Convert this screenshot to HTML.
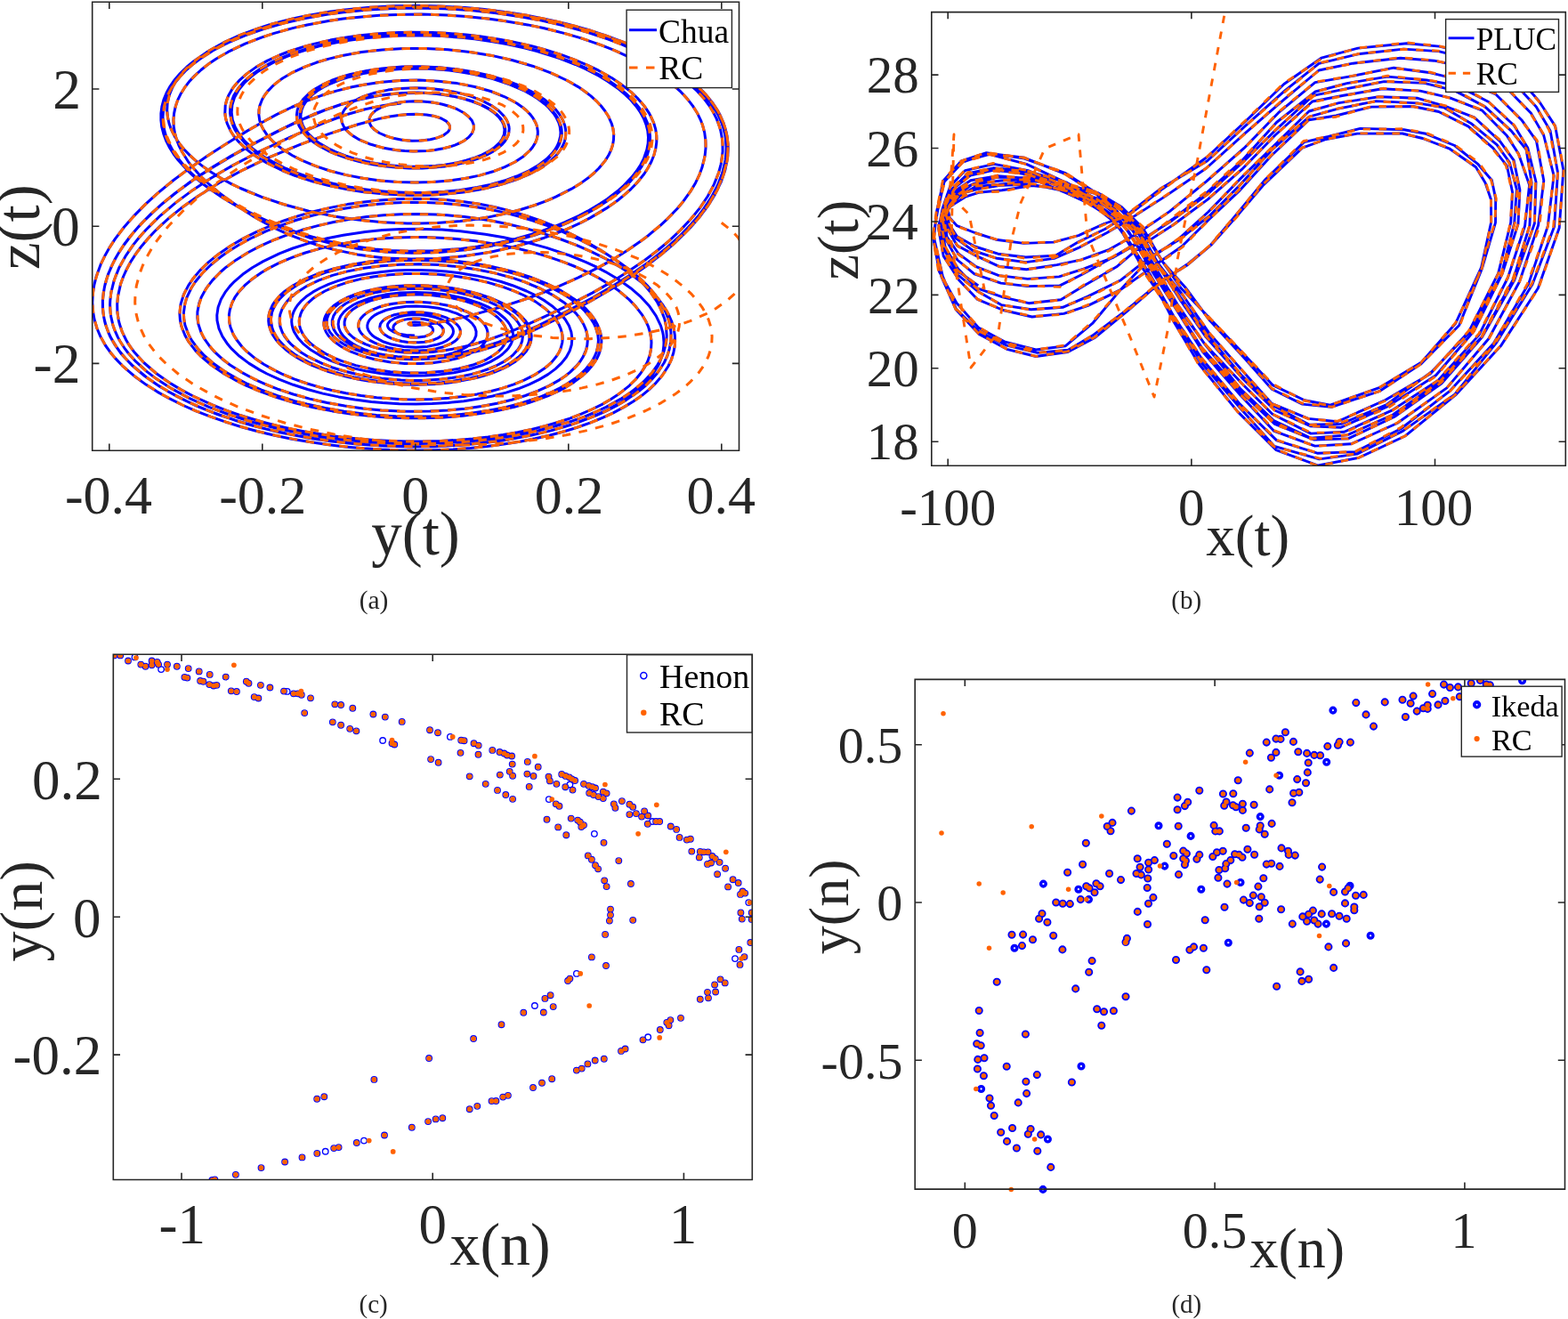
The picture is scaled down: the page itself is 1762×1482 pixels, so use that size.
<!DOCTYPE html>
<html><head><meta charset="utf-8"><title>Attractor reconstruction</title>
<style>html,body{margin:0;padding:0;background:#fff}svg{display:block}text{font-family:'Liberation Serif',serif}</style></head>
<body><svg width="1762" height="1482" viewBox="0 0 1762 1482">
<rect width="1762" height="1482" fill="#fff"/>
<clipPath id="ca"><rect x="103.7" y="2.2" width="726.8" height="504.0"/></clipPath>
<g clip-path="url(#ca)" fill="none" stroke-width="3.0" stroke-linejoin="round">
<path d="M465.9 377.1L456.4 376.5L448.7 375.2L442.7 373.2L438.0 370.3L436.6 368.7L435.7 367.1L435.5 365.4L435.9 363.7L438.4 360.5L443.2 357.7L449.8 355.5L456.8 354.2L464.6 353.6L472.8 353.8L481.1 354.8L489.0 356.5L496.0 358.9L501.2 361.5L504.6 363.9L507.2 366.5L508.9 369.3L509.5 372.2L509.1 375.0L507.6 377.8L505.1 380.5L501.6 383.0L497.1 385.2L491.7 387.0L480.3 389.4L467.3 390.2L453.6 389.5L440.5 387.1L430.1 383.7L421.6 379.2L418.3 376.7L415.8 374.0L414.0 371.2L412.9 368.4L412.8 365.5L413.5 362.6L415.0 359.7L417.5 357.0L420.7 354.4L424.8 352.1L433.6 348.5L444.4 345.9L456.6 344.3L467.9 344.0L481.3 344.7L492.7 346.3L503.4 348.9L513.1 352.2L520.2 355.6L526.1 359.4L530.6 363.5L533.7 367.9L535.1 372.5L534.9 377.1L533.0 381.6L529.4 385.9L524.1 390.0L517.3 393.6L509.1 396.7L501.5 398.8L491.2 400.8L480.0 402.1L468.2 402.5L458.5 402.4L446.3 401.4L436.7 400.0L427.4 398.2L418.6 395.8L410.3 393.0L402.8 389.7L396.2 386.1L390.6 382.2L386.1 377.9L382.8 373.5L380.8 368.9L380.1 364.3L380.8 359.6L382.8 355.1L386.3 350.6L391.1 346.4L397.2 342.5L402.6 339.8L415.3 335.1L425.0 332.6L432.8 331.1L449.7 329.0L467.7 328.4L486.2 329.2L504.5 331.5L522.0 335.2L538.0 340.4L549.7 345.5L559.7 351.5L567.5 358.0L571.1 362.1L573.1 365.0L575.2 369.3L576.1 372.2L576.6 376.6L576.4 379.6L575.3 384.0L574.0 386.9L571.3 391.2L568.9 393.9L564.6 398.0L561.1 400.6L550.8 406.6L540.8 410.8L526.4 415.3L510.2 418.8L492.6 421.1L477.6 422.1L458.3 422.2L442.7 421.3L427.2 419.6L412.0 417.1L397.3 413.7L383.6 409.6L370.8 404.8L359.4 399.3L349.5 393.3L341.2 386.7L334.8 379.8L330.4 372.6L329.0 368.9L328.1 365.2L327.7 361.4L327.9 357.7L328.7 354.0L330.0 350.3L331.9 346.6L334.3 343.0L338.9 337.8L344.8 332.7L351.9 327.9L360.1 323.5L369.3 319.3L379.6 315.6L390.8 312.3L402.8 309.5L415.6 307.2L429.0 305.4L442.9 304.1L457.3 303.4L472.0 303.4L486.8 303.9L501.6 305.0L516.4 306.7L535.6 309.9L549.6 312.9L563.1 316.5L575.9 320.7L591.6 327.0L602.4 332.2L612.1 337.9L620.6 343.9L629.9 352.5L635.4 359.2L639.4 366.0L641.9 373.1L642.9 380.1L642.3 387.2L640.2 394.3L636.4 401.2L631.1 407.9L624.3 414.4L615.9 420.6L606.1 426.4L594.8 431.8L582.3 436.8L568.6 441.1L553.7 445.0L537.9 448.1L521.2 450.7L503.7 452.5L485.7 453.6L467.3 454.0L448.6 453.7L429.8 452.6L417.3 451.4L398.7 449.0L380.4 445.9L362.6 442.1L345.6 437.5L329.4 432.3L314.1 426.4L300.1 420.0L291.4 415.4L279.6 408.1L269.2 400.3L260.5 392.2L255.7 386.6L249.9 377.9L246.0 369.1L244.0 360.1L243.8 354.1L245.1 345.2L248.4 336.3L253.6 327.6L258.1 321.9L263.4 316.3L272.7 308.3L283.5 300.7L295.8 293.6L314.0 284.8L329.0 279.0L350.6 272.1L367.8 267.8L385.7 264.2L410.6 260.5L429.8 258.6L449.5 257.5L469.6 257.2L496.8 258.1L517.4 259.7L545.3 263.2L566.2 266.8L593.9 272.9L614.1 278.4L639.9 287.0L658.0 294.4L669.5 299.7L680.3 305.3L695.4 314.2L708.7 323.7L720.2 333.7L729.8 344.1L737.2 354.8L742.5 365.9L744.7 373.3L745.4 377.1L746.0 384.6L745.9 388.3L745.0 395.8L744.1 399.5L741.4 407.0L739.7 410.6L732.9 421.5L723.7 432.1L712.1 442.2L698.1 451.8L682.0 460.8L663.6 469.2L643.3 476.7L621.1 483.4L597.3 489.1L571.9 493.9L545.3 497.6L517.6 500.2L489.0 501.7L459.9 502.0L430.4 501.1L400.8 499.0L371.4 495.8L342.5 491.4L314.2 485.8L286.9 479.1L269.4 474.0L244.3 465.5L220.9 456.1L199.3 445.7L179.8 434.5L162.6 422.6L147.9 410.0L139.6 401.3L135.8 396.9L129.4 387.9L124.1 378.8L122.0 374.1L118.6 364.8L117.4 360.1L115.8 350.7L115.4 346.0L115.4 336.5L117.4 322.4L121.4 308.4L127.5 294.6L132.5 285.5L138.3 276.6L148.1 263.5L155.4 255.1L163.2 246.8L180.1 230.9L198.4 216.0L217.5 202.1L237.1 189.2L261.5 174.6L289.7 159.2L319.5 143.9L342.8 133.0L364.9 123.9L383.0 117.6L404.5 111.7L425.8 107.6L447.0 105.1L467.6 104.4L477.7 104.6L490.7 105.5L500.1 106.7L512.0 108.8L520.4 110.8L530.7 114.0L540.0 117.7L548.1 121.8L554.9 126.4L560.3 131.3L564.1 136.4L566.0 140.4L567.0 145.7L566.4 151.1L564.1 156.4L561.3 160.3L556.2 165.2L549.5 169.9L541.3 174.1L534.2 177.0L523.7 180.3L512.1 183.1L499.5 185.2L489.5 186.3L475.7 187.1L461.4 187.2L447.0 186.5L436.2 185.5L421.9 183.5L411.5 181.5L398.2 178.1L388.8 175.2L377.1 170.7L369.1 166.9L359.6 161.4L353.5 156.9L346.9 150.7L343.0 145.7L340.2 140.7L338.5 135.5L338.0 132.1L338.0 128.6L339.0 123.4L341.1 118.3L344.4 113.3L350.5 106.9L356.4 102.3L363.4 98.0L371.4 94.0L380.4 90.3L390.3 87.0L408.5 82.5L420.4 80.4L432.9 78.7L454.7 77.2L468.2 77.0L481.9 77.3L504.8 79.1L518.4 80.9L531.7 83.3L553.0 88.4L572.6 94.8L590.1 102.5L599.3 107.7L604.8 111.3L612.2 117.0L616.5 121.0L621.9 127.2L624.7 131.4L627.9 137.8L629.2 142.2L630.0 148.7L629.7 153.1L628.0 159.7L626.1 164.0L623.6 168.2L620.4 172.4L614.4 178.5L604.2 186.1L594.9 191.5L580.6 198.0L568.6 202.4L550.8 207.4L536.3 210.5L515.7 213.7L499.5 215.3L477.2 216.5L459.9 216.5L436.8 215.6L419.4 214.0L402.1 211.7L385.3 208.8L363.5 203.8L348.0 199.3L333.4 194.2L319.7 188.6L303.3 180.2L292.4 173.4L283.0 166.2L275.1 158.6L268.7 150.7L264.1 142.6L261.2 134.4L260.2 126.1L260.9 117.8L263.5 109.5L268.0 101.4L274.3 93.5L282.5 85.9L288.9 81.0L299.9 74.1L308.2 69.7L322.0 63.6L332.0 59.8L348.2 54.7L359.7 51.6L378.0 47.7L390.7 45.5L410.7 42.8L424.4 41.5L445.6 40.2L460.0 39.8L481.9 40.0L496.6 40.6L518.6 42.2L533.3 43.8L555.0 46.9L569.2 49.5L590.0 54.0L603.4 57.5L628.9 65.6L646.7 72.5L657.8 77.5L673.3 85.5L682.7 91.2L695.3 100.1L702.7 106.4L709.2 112.8L714.9 119.4L719.6 126.2L723.3 133.0L726.0 139.9L727.8 146.9L728.5 154.0L728.2 161.0L726.9 168.0L723.3 178.4L719.8 185.3L715.4 192.0L710.3 198.6L701.1 208.3L694.2 214.5L682.6 223.4L674.1 229.1L660.4 237.2L650.7 242.3L635.4 249.4L624.7 253.8L608.0 259.8L596.6 263.5L579.1 268.4L567.2 271.2L549.0 274.9L536.8 277.0L518.4 279.4L487.7 281.8L457.2 282.2L439.2 281.5L421.4 280.0L392.4 276.0L364.3 270.0L337.1 262.2L321.3 256.6L305.7 250.5L290.4 243.7L275.4 236.2L260.6 228.2L251.1 222.5L237.4 213.6L228.8 207.3L216.9 197.4L209.8 190.6L200.3 180.1L194.9 172.8L190.3 165.4L186.6 158.0L183.8 150.4L181.8 142.7L180.9 135.1L180.9 127.4L181.9 119.7L183.9 112.1L187.0 104.5L191.1 97.0L196.2 89.7L202.4 82.5L209.6 75.5L217.8 68.7L232.0 58.9L242.7 52.7L260.5 44.0L273.4 38.7L294.5 31.3L309.5 26.8L333.3 21.0L350.1 17.6L376.3 13.4L394.4 11.2L422.3 8.9L441.4 7.9L470.5 7.5L490.1 7.9L509.7 8.7L529.4 10.2L558.7 13.3L578.1 16.0L597.1 19.3L615.9 23.0L643.1 29.6L660.7 34.6L677.6 40.0L693.8 45.9L716.7 55.5L730.9 62.4L744.2 69.7L756.5 77.3L773.0 89.4L782.6 97.7L791.0 106.3L798.3 115.2L804.2 124.1L806.8 128.7L810.9 137.9L812.5 142.5L814.8 151.9L815.5 156.6L816.1 165.9L816.0 170.6L815.1 180.0L811.8 194.0L806.6 207.8L799.5 221.4L790.7 234.6L784.1 243.3L776.8 251.7L765.0 264.0L747.8 279.5L729.3 294.2L710.0 307.8L690.3 320.3L665.9 334.5L637.8 349.4L604.3 366.0L581.6 376.1L560.1 384.5L539.2 391.2L522.0 395.5L501.6 399.1L481.6 401.1L471.7 401.5L458.9 401.4L446.6 400.7L434.7 399.3L423.6 397.2L413.3 394.6L403.9 391.5L395.5 387.9L388.3 383.8L382.4 379.5L377.9 374.8L374.9 369.9L373.3 364.9L373.3 359.9L374.8 354.9L377.9 350.0L382.5 345.4L388.6 341.0L396.1 337.0L402.6 334.3L412.3 331.1L423.1 328.4L434.8 326.4L444.1 325.3L457.0 324.4L470.3 324.2L483.8 324.8L493.9 325.7L507.3 327.5L517.0 329.3L529.6 332.4L538.5 335.1L549.6 339.2L557.2 342.7L566.2 347.8L572.0 352.0L578.5 357.8L582.2 362.4L585.0 367.1L586.7 371.9L587.4 378.4L586.7 383.2L584.9 388.0L582.0 392.7L576.5 398.8L571.1 403.1L564.7 407.2L557.4 411.0L549.1 414.5L540.0 417.6L530.1 420.4L519.4 422.7L508.2 424.6L496.4 426.1L475.9 427.4L463.2 427.5L450.4 427.1L428.9 425.2L416.2 423.5L403.8 421.2L384.1 416.3L372.9 412.7L362.5 408.7L346.9 401.2L338.8 396.2L333.9 392.6L327.5 387.2L323.9 383.4L319.5 377.5L317.3 373.5L315.0 367.4L314.2 363.3L314.2 357.2L314.9 353.1L317.1 347.0L319.4 343.0L322.2 339.1L325.7 335.2L334.4 327.9L345.4 321.0L358.5 314.8L373.6 309.4L390.5 304.9L408.9 301.2L428.6 298.7L449.3 297.2L470.7 296.8L492.4 297.6L514.1 299.5L535.4 302.7L556.1 306.9L575.8 312.2L589.6 316.9L606.7 324.0L621.8 331.9L634.7 340.6L642.9 347.6L647.5 352.4L651.4 357.3L656.0 364.8L658.2 369.9L659.6 375.1L660.3 382.9L659.8 388.1L658.5 393.3L655.2 400.9L652.0 406.0L648.1 410.9L640.7 418.1L634.9 422.7L628.3 427.1L617.2 433.4L604.5 439.2L590.4 444.5L575.1 449.2L558.5 453.2L540.9 456.5L522.3 459.2L503.0 461.0L483.1 462.1L462.8 462.3L449.1 462.0L428.4 460.9L407.8 458.9L387.4 456.1L367.5 452.5L348.1 448.1L329.6 443.0L312.0 437.1L300.9 432.8L285.3 425.8L271.1 418.1L258.4 410.0L250.9 404.3L241.2 395.4L235.7 389.2L229.1 379.8L225.9 373.3L222.7 363.6L221.8 357.0L221.9 350.4L223.8 340.5L226.2 334.0L231.5 324.4L238.6 315.1L247.4 306.0L254.1 300.2L265.5 291.9L278.2 284.0L292.0 276.7L307.0 269.9L322.9 263.8L339.6 258.3L357.0 253.6L375.0 249.5L393.5 246.2L412.3 243.6L431.3 241.8L450.6 240.7L469.9 240.5L489.3 241.0L502.3 241.7L521.6 243.6L534.5 245.2L553.7 248.3L572.8 252.2L591.7 256.9L610.6 262.3L629.3 268.5L647.6 275.4L665.2 283.1L682.0 291.4L697.6 300.4L707.2 306.7L720.4 316.7L728.3 323.6L738.6 334.4L744.3 341.8L751.2 353.1L754.6 360.8L757.0 368.6L758.3 376.4L758.6 384.3L758.3 388.2L756.9 396.0L754.5 403.8L750.9 411.5L743.5 422.8L737.2 430.1L729.8 437.3L721.3 444.3L711.7 451.0L701.2 457.4L689.6 463.6L677.1 469.4L663.6 474.9L649.3 480.0L634.1 484.7L618.1 489.0L601.4 492.8L584.1 496.2L566.1 499.1L547.5 501.5L528.5 503.5L509.1 504.9L489.3 505.7L469.2 506.1L449.0 505.9L428.7 505.1L408.3 503.8L387.9 502.0L367.7 499.6L347.7 496.6L328.0 493.2L308.7 489.2L289.8 484.7L271.4 479.7L253.7 474.2L236.6 468.2L220.3 461.8L204.8 455.0L190.2 447.7L176.6 440.1L164.0 432.1L152.5 423.8L137.4 410.8L128.9 401.9L125.1 397.3L118.4 388.0L113.1 378.6L109.0 369.0L106.1 359.3L104.4 349.6L103.8 339.9L104.3 330.1L105.8 320.4L108.2 310.7L113.5 296.3L118.1 286.9L123.4 277.6L129.4 268.4L139.6 255.0L151.0 242.1L163.3 229.6L176.5 217.6L194.9 202.5L213.9 188.4L232.9 175.3L251.6 163.2L278.2 146.9L295.0 137.2L311.4 128.4L327.8 120.5L344.3 113.5L361.1 107.3L378.1 102.1L395.5 97.8L408.7 95.2L426.5 92.6L448.9 90.6L471.1 90.1L492.8 91.2L513.7 93.6L533.4 97.5L551.3 102.5L567.2 108.8L580.7 116.0L587.4 120.7L591.4 124.0L596.3 129.1L599.0 132.7L602.0 138.1L603.4 141.7L604.3 147.2L604.3 150.9L603.1 156.5L601.7 160.1L598.4 165.5L595.5 169.0L588.2 175.7L578.7 182.0L567.2 187.7L553.9 192.8L538.9 197.1L522.4 200.5L504.7 203.0L486.1 204.6L466.8 205.1L447.1 204.6L427.4 203.0L407.9 200.3L389.0 196.6L370.9 192.0L354.0 186.4L338.6 179.9L328.2 174.5L316.1 166.7L308.3 160.5L303.9 156.1L300.1 151.7L295.6 144.9L293.4 140.3L291.8 135.6L290.8 128.5L291.0 123.7L291.8 119.0L294.5 112.0L297.1 107.4L300.5 102.9L306.8 96.3L311.8 92.1L317.5 88.0L327.3 82.2L342.5 75.1L355.4 70.3L369.5 66.1L384.6 62.5L406.3 58.6L429.4 56.0L453.4 54.6L478.2 54.6L503.2 55.8L528.2 58.5L552.6 62.4L576.1 67.7L598.4 74.2L618.9 81.8L637.4 90.5L649.8 97.6L657.2 102.7L664.0 107.9L670.0 113.3L675.2 118.8L679.7 124.5L683.4 130.2L687.4 139.1L689.0 145.0L689.7 151.0L689.5 157.0L688.5 163.0L686.5 168.9L683.7 174.8L680.0 180.6L673.0 189.0L667.4 194.5L661.1 199.8L654.0 204.9L642.3 212.2L624.6 221.2L615.0 225.3L599.7 231.0L583.4 236.0L572.0 239.0L548.3 244.1L529.8 247.0L517.1 248.5L491.1 250.5L471.2 251.1L457.7 251.0L430.4 249.8L402.8 247.1L374.8 242.9L347.0 237.2L320.0 230.0L294.2 221.4L270.2 211.5L259.0 206.1L248.4 200.3L238.6 194.3L229.5 188.1L221.1 181.6L213.7 174.9L207.0 168.0L201.3 160.9L196.6 153.7L192.8 146.4L190.1 139.0L188.4 131.5L187.7 124.0L188.1 116.5L189.6 109.0L190.8 105.3L193.9 97.9L198.1 90.6L206.5 80.0L213.4 73.1L221.4 66.4L235.3 56.7L251.5 47.7L269.8 39.4L290.1 31.9L304.6 27.3L327.9 21.2L344.3 17.7L370.1 13.3L387.9 10.9L415.6 8.3L444.2 6.8L473.3 6.5L492.9 6.9L522.5 8.6L542.1 10.3L571.4 13.9L590.7 17.0L618.9 22.6L637.2 26.9L663.7 34.3L680.6 39.9L704.7 49.0L719.7 55.6L740.7 66.2L753.4 73.7L770.6 85.7L780.7 94.0L789.7 102.5L793.7 106.9L800.9 115.8L806.8 124.9L809.2 129.4L813.2 138.7L816.0 148.1L817.0 152.8L818.1 162.2L818.2 166.9L817.7 176.4L815.0 190.5L810.3 204.4L803.6 218.1L795.3 231.6L785.5 244.6L774.4 257.3L757.9 273.4L744.5 284.8L725.8 299.3L706.3 312.7L686.7 325.0L662.5 339.0L630.7 355.9L602.2 370.0L579.6 380.0L557.8 388.2L539.9 393.7L522.1 398.0L504.4 401.1L486.9 403.1L466.3 403.8L449.7 403.2L430.9 401.1L413.7 397.5L398.6 392.6L392.0 389.7L386.0 386.6L380.8 383.2L375.1 378.4L370.9 373.4L368.7 369.4L367.4 365.5L367.1 361.4L367.7 357.4L369.2 353.5L371.7 349.6L375.1 345.8L380.9 341.0L388.3 336.6L397.2 332.6L407.3 329.1L418.6 326.2L430.9 324.0L444.0 322.4L454.3 321.7L468.4 321.4L482.7 321.8L497.1 323.1L507.7 324.5L521.6 327.1L531.6 329.5L544.2 333.3L553.1 336.6L563.9 341.6L571.1 345.6L579.4 351.5L584.6 356.1L589.9 362.6L592.7 367.6L594.7 374.5L595.0 379.6L594.5 383.1L593.5 386.5L591.0 391.6L587.4 396.5L582.6 401.3L574.6 407.3L567.3 411.5L559.0 415.4L549.8 418.9L539.7 422.1L528.8 424.8L509.1 428.3L496.5 429.8L483.5 430.7L461.1 431.1L447.4 430.6L433.8 429.5L411.2 426.5L398.1 424.0L385.4 421.0L365.5 414.8L347.6 407.4L338.1 402.4L332.3 398.9L324.6 393.3L320.0 389.4L314.3 383.4L311.1 379.2L307.5 372.9L305.9 368.5L304.6 362.0L304.5 357.7L305.6 351.1L307.2 346.8L310.7 340.4L313.9 336.3L319.9 330.2L324.6 326.4L335.9 319.0L349.6 312.3L365.3 306.4L383.0 301.4L402.3 297.4L423.1 294.5L444.9 292.8L467.6 292.2L490.6 292.9L513.7 294.8L536.4 297.9L558.5 302.2L579.6 307.7L599.3 314.3L617.2 322.0L633.0 330.5L640.1 335.0L646.5 339.8L652.3 344.7L657.4 349.8L663.7 357.6L667.0 362.9L669.6 368.3L671.9 376.6L672.4 382.1L672.1 387.6L670.2 395.9L667.8 401.3L664.7 406.7L658.4 414.5L653.3 419.6L647.3 424.6L636.9 431.6L629.0 436.1L620.4 440.4L606.3 446.3L585.1 453.2L567.8 457.6L549.2 461.3L529.7 464.3L509.4 466.4L488.3 467.7L466.8 468.1L444.9 467.7L423.0 466.4L408.4 465.0L386.7 462.2L365.4 458.5L344.7 454.0L331.3 450.6L312.0 444.7L293.9 438.1L277.0 430.8L266.6 425.5L252.3 417.2L239.7 408.2L228.9 398.9L222.8 392.4L215.4 382.4L211.7 375.6L207.9 365.2L206.7 358.2L206.4 351.2L207.9 340.7L210.1 333.8L215.0 323.5L219.4 316.8L227.3 307.0L237.0 297.5L248.1 288.5L256.2 282.7L269.5 274.5L283.9 266.8L299.3 259.7L315.4 253.3L332.3 247.5L349.7 242.5L367.5 238.1L385.7 234.5L404.1 231.6L422.6 229.4L441.1 228.0L459.5 227.3L477.9 227.4L496.0 228.2L514.0 229.8L531.6 232.0L549.0 235.0L566.0 238.6L582.7 243.0L599.1 248.0L615.2 253.7L631.0 260.0L651.7 269.3L666.9 277.1L681.7 285.5L695.6 294.4L708.6 303.9L720.3 313.9L727.3 320.8L736.5 331.5L741.6 338.9L747.8 350.1L750.8 357.7L752.8 365.3L753.9 373.0L754.0 380.8L753.6 384.6L752.2 392.3L749.8 400.0L746.3 407.5L739.0 418.7L732.9 425.9L725.8 433.0L717.6 439.8L703.4 449.6L692.7 455.9L681.1 461.8L668.6 467.4L648.2 475.1L633.5 479.8L618.1 484.1L602.0 487.9L585.2 491.3L567.8 494.3L549.9 496.8L531.5 498.8L512.7 500.2L493.5 501.2L474.1 501.7L454.4 501.6L434.7 501.0L414.9 499.9L395.1 498.2L375.5 496.0L356.0 493.3L336.8 490.1L318.0 486.3L299.5 482.1L281.6 477.3L264.2 472.1L239.4 463.4L223.8 457.1L209.0 450.4L188.5 439.6L176.1 431.9L164.7 423.9L149.7 411.5L141.1 402.8L133.8 393.9L130.6 389.4L125.1 380.3L122.8 375.7L119.2 366.4L116.8 357.0L115.6 347.6L115.4 338.2L116.3 328.7L118.1 319.3L120.9 310.0L124.6 300.7L129.0 291.6L134.3 282.6L140.2 273.7L146.8 265.0L157.8 252.3L169.9 240.1L182.9 228.4L196.6 217.2L210.8 206.6L225.4 196.6L240.0 187.1L259.5 175.4L283.2 162.3L309.5 148.6L333.4 136.9L352.2 128.5L366.9 122.8L384.9 116.7L399.3 112.6L417.2 108.7L435.0 106.0L452.6 104.4L469.8 104.1L486.5 104.8L502.3 106.7L517.0 109.6L532.8 114.3L544.1 119.1L549.9 122.3L555.0 125.8L559.3 129.4L562.8 133.2L565.4 137.2L566.6 139.8L567.6 143.9L567.8 148.0L567.0 152.0L565.9 154.7L563.5 158.6L561.4 161.2L554.4 167.4L547.0 171.9L538.2 176.0L528.0 179.5L516.7 182.5L504.3 184.9L491.0 186.5L477.2 187.5L466.4 187.7L451.9 187.3L437.4 186.1L423.0 184.1L412.5 182.1L399.0 178.8L389.4 175.9L377.5 171.4L369.3 167.7L359.7 162.1L353.4 157.7L346.5 151.4L342.5 146.5L338.8 139.7L337.3 134.5L336.9 131.0L337.1 127.5L338.3 122.3L341.7 115.4L345.6 110.5L350.7 105.7L356.8 101.1L366.7 95.5L375.3 91.6L384.9 88.1L395.3 85.0L414.4 80.8L430.9 78.5L448.4 77.0L466.4 76.5L489.5 77.2L507.9 78.9L526.0 81.6L543.6 85.3L560.2 89.9L575.7 95.3L589.7 101.6L602.1 108.5L612.5 116.1L620.8 124.2L624.0 128.3L626.7 132.6L628.8 136.9L630.3 141.3L631.1 145.7L631.3 150.1L630.8 154.6L629.7 159.0L627.9 163.3L625.4 167.6L622.3 171.8L618.6 176.0L614.2 180.0L609.1 183.9L597.3 191.2L583.1 197.9L571.1 202.3L553.3 207.5L533.8 211.6L512.9 214.7L496.5 216.2L473.8 217.2L450.6 216.9L427.2 215.4L409.7 213.5L386.9 209.8L370.3 206.2L349.1 200.5L334.2 195.4L315.9 187.8L303.5 181.4L289.0 172.3L279.8 164.9L274.5 159.8L269.9 154.6L264.4 146.5L261.8 141.0L259.9 135.5L258.5 127.1L258.7 121.5L259.6 115.9L262.6 107.6L267.5 99.5L274.3 91.6L282.8 84.0L293.2 76.8L305.2 70.0L314.1 65.8L328.8 59.9L345.0 54.6L362.4 50.1L374.7 47.4L394.1 44.1L414.3 41.6L435.4 39.9L449.7 39.2L471.6 39.0L486.4 39.3L508.6 40.6L523.5 41.9L545.5 44.6L560.0 46.9L581.2 51.1L595.0 54.4L615.0 60.0L627.7 64.1L645.8 71.0L657.2 75.9L673.0 83.9L682.6 89.6L695.6 98.6L703.2 104.8L713.0 114.6L718.4 121.3L724.7 131.6L727.7 138.5L729.6 145.6L730.5 152.7L730.5 159.8L729.4 166.8L727.4 173.9L724.5 180.8L720.7 187.7L713.5 197.8L707.7 204.4L701.2 210.8L694.1 217.0L682.2 225.9L664.5 237.0L654.8 242.2L639.6 249.5L629.0 254.0L612.5 260.2L601.2 264.0L583.7 269.0L571.9 272.0L553.8 275.9L523.4 280.7L492.9 283.5L462.6 284.2L432.9 283.0L404.0 279.7L376.1 274.5L349.2 267.5L323.3 258.7L308.2 252.7L293.5 246.0L278.9 238.7L264.6 230.8L250.7 222.4L241.8 216.4L229.2 207.1L221.5 200.6L210.8 190.5L204.6 183.5L199.0 176.4L194.2 169.1L190.2 161.8L187.0 154.3L184.8 146.7L183.4 139.1L183.0 131.5L183.6 123.9L185.2 116.3L187.8 108.7L191.4 101.3L196.0 93.9L201.7 86.7L208.3 79.7L216.0 72.8L224.7 66.2L239.5 56.7L256.5 47.9L275.4 39.8L296.3 32.5L318.8 26.1L343.0 20.6L368.5 16.1L386.2 13.7L413.6 11.0L441.8 9.4L470.5 9.0L499.6 9.7L528.8 11.6L557.9 14.7L586.5 19.0L605.2 22.4L632.5 28.6L658.7 35.8L683.5 44.0L699.2 50.1L721.2 59.9L741.2 70.6L759.1 82.0L769.7 90.0L783.5 102.5L791.3 111.1L797.8 119.9L800.6 124.4L805.2 133.4L808.7 142.6L809.9 147.2L811.6 156.4L812.0 161.1L812.1 170.4L810.2 184.3L807.8 193.5L802.4 207.1L795.3 220.5L786.5 233.6L776.2 246.3L764.7 258.5L752.2 270.3L738.8 281.5L724.7 292.2L705.2 305.6L685.4 317.9L665.6 329.1L641.5 341.6L618.8 352.6L590.4 365.6L568.7 374.6L548.3 382.0L532.1 387.0L516.3 390.8L500.8 393.6L485.8 395.4L468.3 396.2L454.5 395.9L438.9 394.2L424.7 391.4L418.3 389.6L410.5 386.7L400.6 381.8L396.6 379.0L392.3 375.1L389.3 371.0L387.8 367.9L387.1 364.7L387.1 361.5L388.3 357.2L390.1 354.1L392.6 351.0L395.9 348.1L401.3 344.4L408.0 341.1L415.7 338.1L422.1 336.2L431.5 334.0L441.6 332.4L460.7 330.9L472.1 330.9L483.7 331.5L503.7 334.0L514.7 336.3L522.6 338.4L532.5 341.7L539.4 344.5L547.7 348.6L553.2 352.0L559.4 356.8L563.2 360.6L567.0 365.9L568.8 370.0L569.8 374.1L569.8 378.3L568.5 383.8L566.3 387.8L563.3 391.8L559.4 395.6L552.7 400.4L546.8 403.8L540.0 406.9L532.5 409.7L515.4 414.3L499.5 417.0L478.8 418.8L460.7 419.1L438.7 417.7L420.7 415.2L400.0 410.6L384.1 405.6L375.3 402.1L367.3 398.2L355.6 391.1L349.8 386.5L346.4 383.3L342.3 378.4L340.1 375.0L337.7 369.8L336.7 366.3L336.2 361.1L336.5 357.6L338.0 352.4L339.6 348.9L343.0 343.8L345.9 340.6L351.2 335.8L355.4 332.7L365.2 327.0L376.8 321.8L390.0 317.3L404.7 313.6L420.7 310.7L437.7 308.7L455.5 307.6L473.9 307.5L492.5 308.3L511.0 310.2L529.1 313.1L546.7 316.9L563.2 321.7L578.6 327.3L589.1 332.0L601.7 338.9L612.4 346.5L620.9 354.5L625.8 360.8L628.3 365.1L630.2 369.5L631.9 376.1L632.2 380.6L631.8 385.0L630.1 391.7L628.1 396.0L625.4 400.3L620.2 406.6L615.9 410.7L610.9 414.6L602.4 420.3L588.9 427.2L577.4 431.9L564.6 436.1L550.9 439.8L536.1 442.9L520.6 445.4L504.3 447.2L487.5 448.4L470.3 448.9L452.7 448.7L423.3 446.7L405.8 444.6L388.6 441.8L371.8 438.3L361.0 435.6L345.3 431.0L330.5 425.8L316.8 420.1L308.2 415.9L296.4 409.3L286.0 402.2L277.0 394.7L271.9 389.5L265.7 381.5L262.4 376.1L259.0 367.8L257.8 362.2L257.4 353.7L258.3 348.1L261.0 339.7L263.9 334.2L267.7 328.8L274.8 320.9L283.5 313.4L293.8 306.2L301.5 301.6L314.2 295.2L328.1 289.3L343.1 284.0L359.2 279.4L376.2 275.4L394.0 272.1L406.3 270.3L425.3 268.2L444.8 266.9L464.9 266.5L478.5 266.6L499.3 267.5L513.3 268.5L534.4 270.8L548.5 272.9L569.3 276.6L583.0 279.5L603.0 284.6L615.9 288.4L634.5 294.8L646.3 299.5L662.9 307.1L673.1 312.5L687.3 321.1L695.8 327.1L707.0 336.6L713.4 343.2L721.3 353.3L725.4 360.2L728.6 367.2L730.7 374.2L731.8 381.4L732.0 384.9L731.6 392.0L730.2 399.1L727.7 406.2L724.1 413.2L719.5 420.0L713.9 426.7L707.2 433.3L695.3 442.8L686.2 448.8L676.1 454.6L665.0 460.0L653.1 465.2L640.4 470.1L626.8 474.5L612.4 478.6L597.4 482.4L581.7 485.7L565.4 488.5L548.5 491.0L531.2 492.9L513.5 494.4L495.4 495.4L477.0 496.0L458.4 496.0L439.6 495.5L420.8 494.5L402.0 493.0L383.3 491.0L364.8 488.5L346.4 485.6L328.4 482.1L310.7 478.1L293.6 473.7L268.8 466.2L253.0 460.7L238.0 454.7L216.9 445.0L203.9 438.1L191.8 430.9L175.5 419.5L161.7 407.5L150.3 394.9L144.2 386.3L141.7 382.0L137.4 373.2L134.4 364.3L133.3 359.8L131.9 350.8L131.7 341.8L132.5 332.8L135.5 319.3L138.7 310.5L142.7 301.7L147.5 293.1L153.1 284.5L159.4 276.2L166.3 268.0L173.8 260.0L181.8 252.3L190.3 244.7L203.7 233.8L222.8 220.2L247.8 204.6L273.3 190.8L303.5 176.4L336.7 162.6L369.7 150.4L402.4 139.7L426.2 133.4L437.7 131.0L448.2 129.4L458.0 128.5L468.5 128.2L479.3 128.9L488.5 130.6L495.8 133.0L501.8 136.4L504.8 139.9L505.5 141.9L505.5 144.0L504.8 146.1L503.5 148.1L498.7 151.8L491.4 154.9L483.5 156.8L473.0 158.1L463.1 158.2L452.9 157.4L443.1 155.6L434.1 152.9L426.4 149.5L420.4 145.4L416.9 141.5L415.5 138.8L415.0 136.7L415.3 132.5L416.5 129.8L418.0 127.8L422.3 124.0L428.3 120.6L435.9 117.8L444.8 115.7L454.8 114.3L465.5 113.8L474.7 114.0L485.7 115.1L496.4 117.0L506.3 119.8L513.7 122.7L521.2 126.8L526.2 130.7L530.4 135.6L532.2 140.0L532.5 142.6L532.2 145.3L530.5 149.6L527.1 153.8L522.2 157.7L517.1 160.5L511.1 163.1L504.4 165.3L496.8 167.1L488.7 168.5L480.1 169.5L464.1 170.0L454.8 169.6L445.5 168.7L429.6 165.9L415.1 161.7L407.7 158.7L402.6 156.3L396.6 152.6L392.8 149.7L388.7 145.6L386.4 142.4L384.4 138.1L383.7 134.7L383.7 131.4L384.5 128.0L386.7 123.6L389.3 120.5L392.5 117.4L396.5 114.5L402.9 110.9L408.4 108.4L421.2 104.2L436.1 101.1L449.6 99.5L466.9 98.8L481.6 99.3L499.3 101.2L513.5 103.9L529.5 108.3L541.4 112.9L551.8 118.3L560.3 124.3L566.6 130.8L569.3 134.9L570.6 137.7L571.9 141.9L572.2 144.7L571.8 149.0L571.1 151.8L569.2 155.9L567.4 158.7L563.9 162.7L561.1 165.2L554.2 170.1L545.8 174.6L536.0 178.6L524.9 182.0L512.6 184.8L499.4 186.9L485.4 188.3L474.6 188.9L459.8 188.9L444.8 188.1L429.8 186.5L418.8 184.8L404.6 181.8L391.1 178.1L378.5 173.7L369.9 170.0L359.5 164.5L352.7 160.0L345.1 153.6L340.5 148.6L336.2 141.7L334.2 136.4L333.5 132.8L333.4 129.2L334.1 123.9L335.3 120.3L337.0 116.8L340.6 111.6L347.2 105.0L353.5 100.3L363.6 94.5L372.4 90.5L382.1 86.9L392.8 83.7L412.3 79.4L429.3 76.9L451.7 75.1L470.4 74.8L494.1 75.8L513.0 77.8L531.5 80.8L549.4 84.8L570.3 91.0L585.6 97.0L599.2 103.8L611.0 111.2L620.7 119.2L624.7 123.4L628.1 127.7L630.9 132.1L633.1 136.5L634.7 141.0L635.6 145.6L635.8 150.1L635.4 154.6L634.3 159.2L632.5 163.6L630.0 168.1L626.9 172.4L623.1 176.7L618.6 180.8L607.8 188.7L594.4 195.9L578.8 202.4L561.2 207.9L541.6 212.5L520.5 216.0L498.2 218.3L480.8 219.2L457.0 219.3L433.0 218.1L409.0 215.7L391.4 213.0L368.5 208.3L352.0 204.0L331.3 197.3L317.0 191.5L299.6 183.0L288.1 176.0L281.3 171.1L275.1 166.0L267.1 158.1L262.7 152.7L259.1 147.2L255.2 138.7L253.6 133.0L252.8 127.2L253.2 118.6L254.6 112.9L256.8 107.2L261.7 98.8L268.6 90.7L277.3 82.9L287.8 75.4L300.1 68.4L314.0 62.0L324.2 58.0L340.7 52.6L352.5 49.4L371.2 45.1L384.3 42.7L404.8 39.8L426.1 37.7L448.1 36.5L463.1 36.2L485.8 36.5L501.0 37.3L523.8 39.1L539.0 40.8L561.4 44.2L576.1 46.9L597.5 51.8L611.3 55.5L631.2 61.7L643.8 66.3L661.6 73.8L672.6 79.2L687.8 87.8L697.0 93.9L709.1 103.4L716.1 110.0L724.9 120.3L729.6 127.3L734.6 138.0L736.7 145.2L737.8 152.5L737.8 159.8L736.8 167.1L734.9 174.3L732.0 181.5L728.3 188.5L723.8 195.5L715.5 205.7L709.1 212.3L702.0 218.7L694.3 225.0L681.6 233.9L663.0 244.9L653.0 250.1L637.4 257.3L626.5 261.7L609.8 267.8L598.3 271.5L580.8 276.5L551.1 283.2L521.2 287.8L491.4 290.5L462.2 291.1L434.0 289.9L417.5 288.2L401.5 285.9L375.9 280.6L361.1 276.7L346.8 272.1L324.1 263.3L310.9 257.3L298.2 250.7L285.8 243.7L273.7 236.1L257.9 225.3L246.4 216.7L235.5 207.5L225.5 198.0L216.6 188.1L211.3 181.3L204.7 170.8L201.1 163.7L198.4 156.6L196.4 149.3L195.2 142.0L194.9 134.7L195.6 127.4L197.1 120.1L199.5 112.9L202.9 105.8L207.3 98.7L212.5 91.8L218.8 85.1L226.0 78.5L234.1 72.1L243.1 66.0L258.3 57.3L275.5 49.2L294.5 41.9L308.1 37.4L329.8 31.4L345.1 28.0L369.1 23.5L385.8 21.1L411.6 18.4L429.3 17.1L456.3 16.2L474.6 16.1L502.2 17.0L520.6 18.2L548.2 20.9L566.3 23.4L593.1 27.9L610.6 31.5L635.9 37.9L652.2 42.6L675.4 50.6L690.1 56.4L710.7 65.8L723.3 72.5L740.6 83.2L750.9 90.7L764.4 102.5L772.0 110.6L778.4 118.9L783.7 127.3L787.8 135.9L789.4 140.2L791.7 148.9L792.9 157.7L793.0 166.5L792.1 175.2L788.9 188.3L785.7 196.9L781.6 205.4L776.7 213.8L767.9 226.2L761.2 234.2L750.1 245.8L742.0 253.3L729.0 264.2L719.9 271.1L705.5 281.0L690.6 290.4L675.3 299.1L649.3 312.2L623.5 323.6L593.6 335.0L561.7 345.4L524.3 355.6L504.9 360.0L490.2 362.9L476.5 364.8L466.7 365.4L462.4 365.2L460.0 364.7L459.0 363.8L460.3 362.8L465.9 361.9L473.3 362.5L480.0 364.3L484.6 367.1L485.9 368.6L486.6 370.1L486.6 371.7L486.0 373.0L484.8 374.5L482.8 375.9L477.7 377.9L470.3 379.1L462.0 379.0L453.9 377.6L447.2 374.9L444.7 373.2L443.0 371.4L442.0 369.4L441.9 367.7L442.5 365.7L443.8 364.2L446.1 362.4L448.6 361.1L453.7 359.4L459.0 358.4L464.9 357.9L471.0 358.0L477.2 358.7L483.1 360.0L488.3 361.8L492.7 364.0L496.0 366.6L497.9 369.4L498.4 372.4L497.6 374.9L495.2 377.7L492.0 379.9L487.7 381.7L482.6 383.2L476.8 384.3L470.5 384.8L458.2 384.5L451.6 383.5L445.3 382.0L439.7 380.1L435.5 378.1L431.5 375.4L429.0 373.0L427.2 369.8L426.8 367.2L427.5 363.9L429.3 361.4L432.0 358.9L435.6 356.7L443.2 353.7L452.6 351.7L463.3 350.7L473.2 350.9L484.5 352.2L493.8 354.3L502.1 357.2L509.0 360.9L514.0 365.1L515.9 367.7L516.9 369.7L517.5 372.4L517.4 374.5L515.8 378.5L513.8 381.1L511.8 382.9L506.4 386.4L498.2 389.7L489.6 391.9L480.0 393.4L471.4 394.0L462.5 394.0L453.5 393.4L444.6 392.2L436.1 390.4L428.1 388.1L420.9 385.2L414.6 381.9L409.5 378.2L405.8 374.3L403.8 370.9L402.6 366.6L403.1 362.3L405.2 358.1L408.0 354.9L411.7 351.8L416.5 349.0L426.9 344.7L433.9 342.7L441.6 341.2L456.2 339.5L471.9 339.2L487.9 340.4L503.3 343.2L517.5 347.3L529.7 352.6L535.5 356.2L539.2 359.0L543.2 363.0L545.4 366.2L547.0 369.4L547.9 372.6L548.0 377.0L547.2 380.3L545.6 383.5L543.4 386.6L540.4 389.6L536.7 392.5L527.3 397.8L515.5 402.2L501.6 405.6L486.0 407.8L472.1 408.6L454.9 408.4L437.6 406.7L420.9 403.7L407.8 400.1L393.7 394.8L383.6 389.5L375.3 383.6L369.1 377.3L366.5 373.3L364.8 369.2L363.9 365.1L363.9 362.3L364.5 358.2L365.5 355.4L367.7 351.4L369.7 348.7L374.9 343.6L381.6 338.9L389.9 334.5L399.5 330.6L410.4 327.3L422.3 324.6L435.3 322.5L445.5 321.5L459.6 320.7L474.1 320.7L488.7 321.5L499.7 322.6L514.1 324.7L527.9 327.7L541.1 331.3L550.4 334.5L561.8 339.3L569.5 343.3L578.5 349.1L584.2 353.7L590.3 360.2L593.7 365.2L596.4 372.1L597.2 377.4L597.0 380.9L596.4 384.4L594.4 389.6L591.3 394.7L587.0 399.6L579.5 405.9L572.6 410.3L564.6 414.4L555.7 418.1L545.8 421.5L535.1 424.5L515.6 428.4L503.0 430.2L490.0 431.4L467.4 432.2L453.6 431.9L439.6 431.1L416.6 428.5L403.1 426.2L389.9 423.4L369.2 417.5L350.4 410.3L340.3 405.4L334.1 401.9L325.6 396.4L320.7 392.5L314.2 386.5L310.6 382.3L306.3 375.9L304.2 371.6L302.2 365.0L301.7 360.5L302.1 353.9L303.3 349.5L306.2 342.9L309.0 338.6L314.3 332.4L318.7 328.3L329.4 320.7L342.5 313.6L357.8 307.3L375.1 301.9L394.2 297.5L414.9 294.1L436.7 291.9L459.5 290.9L482.8 291.2L506.3 292.6L529.7 295.4L552.4 299.4L574.3 304.6L594.8 310.9L613.7 318.3L630.6 326.7L645.2 335.9L651.5 340.8L657.2 345.8L664.4 353.7L668.2 359.0L671.3 364.5L674.5 372.8L675.6 378.4L675.9 384.0L674.8 392.4L673.0 398.0L670.4 403.5L664.9 411.6L660.2 416.9L654.7 422.0L644.9 429.4L637.5 434.1L629.2 438.6L615.5 444.9L594.9 452.3L577.9 457.2L559.5 461.3L540.1 464.6L519.8 467.2L498.7 468.9L477.0 469.7L454.9 469.7L432.6 468.8L417.7 467.6L395.5 465.2L373.6 461.9L352.2 457.7L331.6 452.7L311.9 446.8L293.2 440.2L275.9 432.8L265.2 427.5L250.4 419.1L237.3 410.1L226.1 400.6L219.8 394.1L212.0 383.9L208.0 377.0L203.8 366.5L202.4 359.4L201.9 352.3L203.1 341.6L206.4 331.0L211.8 320.6L216.4 313.8L224.7 303.9L234.6 294.3L246.0 285.2L258.7 276.5L272.6 268.4L287.5 260.9L303.2 254.0L319.7 247.7L336.8 242.1L354.4 237.2L372.3 233.1L390.4 229.6L408.7 226.9L426.9 224.9L445.2 223.7L463.3 223.2L481.2 223.4L498.8 224.3L521.8 226.7L538.7 229.2L555.2 232.5L571.3 236.4L592.2 242.6L607.4 247.9L622.3 253.9L636.9 260.5L655.9 270.1L674.5 280.8L687.9 289.4L700.5 298.6L712.1 308.3L722.5 318.4L731.4 328.9L738.7 339.7L742.5 347.1L746.8 358.3L748.4 365.8L749.2 377.2L748.6 384.8L745.7 396.1L742.5 403.6L738.3 410.9L733.1 418.2L723.4 428.7L715.7 435.5L707.0 442.1L697.3 448.4L681.1 457.4L669.1 463.0L656.3 468.3L642.6 473.2L620.6 479.8L605.1 483.8L588.9 487.3L572.1 490.3L554.7 492.9L536.9 495.1L518.6 496.7L500.0 497.8L471.5 498.6L452.3 498.5L433.0 497.8L413.6 496.7L394.3 495.0L375.1 492.8L356.1 490.0L337.4 486.8L310.0 481.0L283.6 474.2L258.5 466.3L234.9 457.4L213.1 447.6L193.3 436.9L175.6 425.6L165.2 417.6L151.5 405.1L143.9 396.5L140.6 392.2L134.8 383.3L132.4 378.9L128.4 369.8L126.9 365.2L124.8 356.1L124.1 351.5L123.6 342.2L123.8 337.6L124.9 328.4L128.3 314.7L133.7 301.1L141.0 287.9L149.9 274.9L156.6 266.5L164.0 258.2L180.1 242.3L197.9 227.4L216.9 213.4L236.5 200.5L261.5 185.9L290.9 170.5L327.2 153.6L365.3 137.5L388.6 129.0L410.3 122.7L431.0 118.4L450.7 115.9" stroke="#0000ff"/>
<path d="M810.8 250.3L821.0 258.3L825.6 262.7L829.7 267.3L835.3 275.7L839.0 284.6L840.3 290.1L840.7 293.9L840.7 299.7L840.1 303.5L838.6 309.4L837.0 313.3L832.7 321.1L828.3 326.8L824.9 330.6L816.7 338.0L804.2 346.7L792.4 353.2L775.6 360.6L760.7 365.8L744.6 370.3L727.5 374.0L705.1 377.6L686.5 379.5L663.0 380.7L639.4 380.5L620.9 379.4L598.7 376.8L577.7 372.9L558.7 367.9L545.0 363.2L530.2 356.5L525.1 353.6L518.4 349.1L514.5 346.0L509.7 341.2L507.1 337.9L504.4 333.0L503.2 329.7L502.5 324.7L503.1 319.9L504.3 316.7L507.0 312.0L509.5 309.0L514.2 304.7L518.0 302.0L527.2 297.0L541.2 291.7L554.3 288.3L572.6 285.3L588.5 283.9L609.6 283.5L627.0 284.4L649.0 287.0L666.3 290.2L683.1 294.4L699.1 299.7L713.9 305.8L727.2 312.8L738.8 320.6L748.4 329.0L752.4 333.4L755.9 338.0L759.9 345.0L761.7 349.8L763.0 354.7L763.6 362.0L763.2 367.0L762.0 371.9L759.0 379.3L754.5 386.5L748.3 393.6L743.4 398.2L737.8 402.7L728.1 409.2L717.0 415.2L704.5 420.9L685.8 427.7L670.5 432.1L654.0 435.9L636.7 439.1L618.5 441.7L606.0 443.0L580.4 444.6L560.7 445.0L547.4 444.8L520.8 443.4L501.0 441.5L488.0 439.8L462.5 435.4L444.1 431.2L432.3 428.1L409.9 420.9L394.4 414.9L384.7 410.5L367.3 401.1L355.9 393.5L349.3 388.2L343.4 382.7L338.3 377.2L332.1 368.6L329.1 362.8L326.9 356.9L325.6 351.0L325.2 345.1L325.7 339.2L327.0 333.4L329.3 327.6L332.4 321.9L336.3 316.3L341.0 310.9L346.4 305.6L352.5 300.4L359.3 295.5L366.7 290.7L379.0 284.0L397.1 276.0L406.9 272.4L422.4 267.4L438.8 263.2L450.1 260.8L473.6 256.9L491.9 254.8L504.4 253.9L529.9 253.1L555.9 253.8L582.4 255.9L602.5 258.4L616.0 260.6L642.9 266.0L669.2 273.0L694.4 281.3L718.0 291.1L729.0 296.4L739.4 302.1L749.1 308.0L758.1 314.2L770.2 323.9L777.3 330.7L783.4 337.6L788.7 344.8L793.0 352.0L796.3 359.4L798.6 366.8L799.8 374.4L800.1 378.1L799.8 385.7L798.4 393.2L795.9 400.7L794.2 404.4L790.1 411.8L784.9 419.1L775.1 429.7L767.2 436.5L758.3 443.1L743.0 452.6L725.5 461.5L706.0 469.6L684.4 476.9L661.1 483.3L636.2 488.8L609.9 493.2L582.3 496.6L553.8 498.9L524.5 500.1L494.7 500.0L464.6 498.8L434.5 496.4L404.8 492.8L375.5 488.0L347.1 482.0L319.7 475.0L293.6 466.9L269.1 457.8L253.8 451.2L239.3 444.2L219.4 433.1L201.7 421.2L186.6 408.6L177.9 400.0L174.1 395.6L167.3 386.6L164.4 382.0L161.8 377.5L157.5 368.2L155.8 363.6L153.4 354.2L152.5 349.5L151.7 340.0L152.0 330.6L153.3 321.2L157.0 307.2L160.5 298.0L164.9 288.9L170.0 279.9L175.8 271.1L182.3 262.5L189.3 254.0L204.9 237.7L222.0 222.3L235.6 211.4L249.7 201.1L264.0 191.4L278.3 182.2L311.1 163.2L352.9 141.2L378.9 129.0L403.7 119.3L417.6 114.8L428.0 111.9L438.4 109.5L452.2 106.9L466.0 105.1L482.9 103.9L499.4 103.9L515.2 105.0L527.3 106.6L541.3 109.6L554.0 113.5L565.0 118.2L574.1 123.6L581.0 129.6L584.1 133.4L585.7 136.0L587.3 140.0L587.8 142.6L587.9 146.7L587.4 149.4L585.9 153.4L584.4 156.0L581.4 159.9L578.9 162.4L572.6 167.2L564.9 171.7L555.7 175.7L545.2 179.2L533.5 182.1L520.9 184.4L507.4 186.0L493.3 186.8L478.8 187.0L464.1 186.3L449.4 184.8L435.0 182.6L421.1 179.7L408.0 176.0L395.8 171.6L384.7 166.7L377.3 162.6L368.7 156.7L361.8 150.4L356.7 143.9L354.1 138.8L352.3 131.9L352.4 126.7L353.0 123.3L354.2 119.8L356.9 114.8L362.4 108.3L367.8 103.6L376.6 97.8L384.5 93.8L396.5 89.0L406.5 85.9L417.3 83.1L428.8 80.9L449.4 78.2L466.7 77.1L484.6 76.9L502.8 77.7L520.9 79.5L538.6 82.3L555.8 86.0L572.0 90.7L587.1 96.2L600.7 102.4L612.6 109.4L622.5 117.0L630.4 125.0L633.4 129.2L635.9 133.4L637.8 137.7L639.0 142.1L639.6 146.5L639.6 150.8L638.9 155.2L637.6 159.6L635.6 163.9L633.0 168.1L629.7 172.3L625.8 176.4L616.0 184.2L603.9 191.4L589.5 197.9L573.0 203.6L554.6 208.4L534.6 212.1L513.3 214.8L491.0 216.2L473.8 216.5L450.5 215.9L427.2 213.9L404.2 210.8L387.4 207.6L365.8 202.3L350.5 197.6L331.5 190.5L318.5 184.5L303.0 175.7L293.0 168.6L287.2 163.6L282.0 158.5L275.6 150.7L272.3 145.3L269.7 139.9L267.3 131.6L266.8 126.0L267.0 120.5L268.9 112.2L271.3 106.7L274.4 101.3L280.7 93.4L288.7 85.8L298.6 78.6L310.1 71.8L323.3 65.5L338.0 59.8L348.6 56.3L365.6 51.6L383.8 47.7L403.0 44.5L416.4 42.8L437.0 40.9L458.3 39.9L480.0 39.8L494.6 40.2L516.6 41.6L531.3 42.9L553.0 45.8L567.3 48.1L588.3 52.4L601.8 55.7L621.5 61.4L634.0 65.6L651.7 72.5L662.8 77.4L678.2 85.5L687.5 91.2L700.1 100.1L707.5 106.4L716.9 116.1L722.0 122.7L727.9 133.0L730.6 139.9L732.3 146.9L732.8 150.4L733.0 157.5L732.1 164.5L730.4 171.5L727.7 178.4L722.0 188.7L717.2 195.3L711.7 201.9L705.4 208.3L694.7 217.5L686.7 223.4L678.2 229.1L669.2 234.6L654.8 242.3L644.6 247.1L628.6 253.8L617.6 257.9L600.5 263.5L588.8 266.8L571.0 271.2L558.9 273.7L540.6 276.9L509.8 280.6L479.0 282.2L448.7 281.8L419.0 279.3L390.1 274.9L362.1 268.6L335.1 260.4L319.3 254.6L303.8 248.2L288.6 241.2L273.5 233.6L258.9 225.4L244.9 216.6L231.8 207.3L223.8 200.8L216.3 194.0L209.4 187.1L200.4 176.4L195.4 169.1L191.2 161.7L187.9 154.2L184.7 142.7L183.7 135.1L183.6 127.4L184.6 119.7L186.6 112.1L189.7 104.5L193.8 97.0L198.9 89.7L205.0 82.5L212.2 75.5L220.4 68.7L229.6 62.1L239.8 55.8L251.0 49.7L263.0 44.0L276.0 38.7L296.9 31.3L311.9 26.8L335.8 21.0L352.5 17.6L378.6 13.4L396.7 11.2L424.7 8.9L443.7 7.9L472.8 7.5L492.3 7.9L521.8 9.4L541.4 11.1L570.6 14.6L589.8 17.6L618.0 23.0L636.3 27.3L662.8 34.6L679.7 40.0L703.7 49.0L718.8 55.5L739.7 66.0L752.5 73.5L764.3 81.3L775.0 89.4L788.9 102.0L796.8 110.7L803.4 119.6L808.7 128.7L812.8 137.9L814.4 142.5L816.7 151.9L817.8 161.2L818.0 165.9L817.5 175.3L816.1 184.7L812.1 198.6L806.2 212.4L798.5 225.8L789.2 239.0L778.6 251.7L766.7 264.0L749.5 279.5L735.7 290.6L716.5 304.4L696.9 317.3L677.2 329.0L648.5 344.7L617.8 360.2L594.3 371.3L572.2 380.5L551.0 388.1L533.7 393.1L516.5 396.9L499.6 399.6L482.9 401.1L463.4 401.5L447.8 400.7L430.3 398.3L414.5 394.6L400.7 389.7L394.8 386.9L389.5 383.8L384.9 380.6L380.0 376.0L376.6 371.2L375.0 367.4L374.2 363.7L374.3 359.9L375.3 356.1L377.2 352.4L380.0 348.8L383.6 345.4L389.6 341.0L397.1 337.0L405.9 333.4L415.9 330.4L426.9 327.9L438.8 326.0L451.4 324.8L461.2 324.3L474.5 324.3L488.0 325.0L501.5 326.5L511.4 328.1L524.2 330.8L533.4 333.2L545.0 337.1L553.0 340.4L562.6 345.2L569.0 349.2L576.2 354.8L580.6 359.3L584.9 365.5L587.0 370.3L588.1 375.1L588.0 380.0L586.3 386.4L583.8 391.2L580.2 395.8L575.5 400.3L567.6 405.9L560.6 409.8L552.6 413.4L543.8 416.6L534.1 419.5L523.7 422.0L505.0 425.2L493.0 426.4L480.7 427.2L459.5 427.4L446.7 426.8L433.8 425.7L412.7 422.8L400.4 420.3L388.5 417.4L369.9 411.4L353.4 404.3L344.6 399.5L339.3 396.2L332.2 390.8L328.1 387.2L322.8 381.4L320.0 377.5L316.9 371.5L315.5 367.4L314.5 361.3L314.7 357.2L316.0 351.0L317.6 347.0L321.2 341.0L324.4 337.1L332.5 329.7L342.9 322.7L355.5 316.3L370.1 310.7L386.6 305.9L404.6 302.1L424.0 299.2L444.5 297.4L465.7 296.8L487.3 297.3L509.1 298.9L530.5 301.8L551.4 305.7L571.3 310.8L590.0 316.9L602.9 322.1L618.6 329.9L632.1 338.4L638.0 342.9L643.2 347.6L649.9 354.8L653.5 359.8L656.4 364.8L659.3 372.5L660.3 377.7L660.6 382.9L659.6 390.7L658.0 395.8L655.5 400.9L650.5 408.4L646.1 413.3L641.0 418.1L632.0 424.9L625.1 429.2L617.5 433.4L604.8 439.2L590.8 444.5L575.4 449.2L558.8 453.2L547.2 455.5L528.9 458.4L516.3 459.9L496.7 461.5L483.4 462.1L463.1 462.3L449.4 462.0L428.7 460.9L414.9 459.7L394.5 457.2L381.0 455.0L361.2 451.2L348.4 448.1L323.9 441.1L306.6 435.0L295.8 430.5L280.6 423.3L271.3 418.1L258.7 410.0L251.2 404.3L244.5 398.4L238.6 392.3L231.3 383.0L227.6 376.6L224.8 370.1L223.0 363.6L222.1 357.0L222.1 350.4L223.2 343.8L226.4 334.0L229.7 327.6L233.8 321.3L238.8 315.1L244.5 309.0L250.9 303.1L258.0 297.4L265.7 291.9L278.4 284.0L297.1 274.4L307.2 269.9L323.1 263.8L345.6 256.7L357.2 253.6L375.2 249.5L399.9 245.2L418.8 242.9L431.5 241.8L450.8 240.7L463.7 240.5L489.5 241.0L515.4 242.9L541.1 246.2L566.6 250.8L579.3 253.7L598.2 258.6L617.0 264.3L629.5 268.5L653.7 277.9L676.7 288.5L687.5 294.3L697.8 300.4L707.4 306.7L716.4 313.3L724.6 320.1L732.1 327.2L738.7 334.4L744.5 341.8L749.3 349.3L753.2 357.0L756.1 364.7L757.9 372.5L758.7 380.3L758.4 388.2L757.1 396.0L754.6 403.8L751.1 411.5L748.9 415.3L743.6 422.8L737.3 430.1L725.8 440.8L716.8 447.7L706.7 454.2L689.8 463.6L677.2 469.4L663.8 474.9L641.9 482.4L618.3 489.0L593.0 494.6L566.2 499.1L538.2 502.6L509.2 504.9L479.4 506.0L459.3 506.0L439.0 505.5L408.4 503.8L377.9 500.8L347.9 496.6L318.4 491.2L289.9 484.7L262.6 477.0L236.7 468.2L220.4 461.8L204.9 455.0L183.4 443.9L164.1 432.1L147.3 419.6L137.5 410.8L133.1 406.4L125.2 397.3L121.7 392.7L118.5 388.0L113.2 378.6L109.1 369.0L106.2 359.3L105.2 354.5L104.1 344.7L104.0 335.0L105.0 325.2L107.0 315.5L109.9 305.9L113.6 296.3L118.2 286.9L123.5 277.6L129.5 268.4L136.2 259.5L143.4 250.7L159.2 233.7L167.7 225.5L181.1 213.7L195.0 202.5L209.2 191.8L237.7 172.2L260.8 157.5L282.5 144.4L299.2 135.0L315.6 126.4L332.0 118.7L344.4 113.5L356.9 108.8L369.6 104.6L382.5 101.0L395.6 97.8L408.8 95.2L422.1 93.1L435.5 91.6L453.4 90.4L471.2 90.1L488.6 90.9L505.6 92.5L521.8 95.0L537.2 98.4L551.4 102.5L564.3 107.4L575.7 113.0L585.4 119.1L593.2 125.7L599.1 132.7L602.8 139.9L603.9 143.6L604.4 147.2L604.3 150.9L603.7 154.6L602.5 158.3L600.8 161.9L595.6 169.0L588.2 175.7L578.7 182.0L567.2 187.7L553.9 192.8L538.9 197.1L526.7 199.7L509.3 202.5L490.9 204.3L471.7 205.1L457.1 205.0L437.3 203.9L422.5 202.4L403.1 199.5L389.0 196.6L370.9 192.0L358.2 187.8L342.4 181.6L331.6 176.3L318.9 168.7L310.8 162.6L306.1 158.3L302.0 153.9L297.0 147.2L294.4 142.6L292.5 137.9L291.0 130.8L291.0 123.7L292.6 116.7L294.5 112.0L297.2 107.4L302.4 100.7L309.2 94.2L317.6 88.0L327.3 82.2L338.5 76.8L351.0 71.8L364.7 67.4L379.5 63.6L395.3 60.4L412.0 57.8L423.5 56.5L441.3 55.1L459.6 54.5L478.2 54.6L490.7 55.0L509.5 56.4L528.2 58.5L546.6 61.3L558.6 63.6L576.2 67.7L593.0 72.4L608.9 77.9L619.0 81.8L633.1 88.2L641.7 92.8L653.6 100.1L660.7 105.2L670.0 113.3L677.6 121.6L683.4 130.2L686.3 136.1L689.0 145.0L689.7 151.0L689.1 160.0L687.6 165.9L685.2 171.8L680.1 180.6L675.6 186.2L667.4 194.5L661.1 199.8L650.3 207.4L642.3 212.2L629.3 219.1L619.9 223.3L604.9 229.2L588.9 234.4L572.0 239.0L554.4 242.9L542.2 245.1L523.5 247.8L510.7 249.1L491.2 250.5L477.9 251.0L457.7 251.0L444.2 250.6L423.6 249.3L409.7 247.9L388.8 245.2L374.8 242.9L353.9 238.8L340.2 235.6L313.4 228.0L294.2 221.4L281.9 216.6L270.2 211.5L259.0 206.1L243.4 197.4L234.0 191.2L225.2 184.8L217.3 178.2L210.2 171.4L204.1 164.5L198.9 157.3L194.6 150.1L191.3 142.7L189.1 135.2L187.9 127.8L187.8 120.3L188.8 112.8L190.8 105.3L193.9 97.9L198.2 90.6L203.5 83.5L209.9 76.5L217.3 69.7L225.8 63.1L235.4 56.7L245.9 50.6L257.4 44.9L269.8 39.4L283.1 34.3L297.3 29.5L312.2 25.2L327.9 21.2L344.3 17.7L361.3 14.6L388.0 10.9L415.6 8.3L434.6 7.2L453.8 6.6L473.3 6.5L502.8 7.3L522.5 8.6L542.2 10.3L561.7 12.6L590.7 17.0L609.6 20.6L628.1 24.7L646.2 29.3L672.3 37.0L688.8 42.8L704.7 49.0L719.7 55.6L740.7 66.2L753.4 73.7L765.2 81.6L775.8 89.8L785.4 98.2L793.7 106.9L800.9 115.8L806.8 124.9L811.4 134.1L814.8 143.4L817.0 152.8L818.1 162.2L818.1 171.6L817.0 181.1L815.0 190.5L810.3 204.4L806.1 213.6L798.3 227.1L788.9 240.3L778.2 253.1L766.4 265.4L753.5 277.3L739.9 288.5L725.8 299.3L706.3 312.7L686.7 325.0L667.3 336.3L643.9 349.0L618.1 362.2L594.6 373.5L572.3 382.9L554.2 389.4L536.3 394.6L518.5 398.7L500.9 401.6L483.4 403.3L466.3 403.8L446.5 403.0L430.9 401.1L413.7 397.5L401.0 393.5L394.1 390.7L387.9 387.6L382.5 384.3L377.8 380.8L373.9 377.2L370.9 373.4L368.7 369.4L367.5 365.5L367.1 361.4L367.7 357.4L369.2 353.5L371.7 349.6L377.8 343.4L384.5 338.8L392.6 334.5L402.1 330.8L412.8 327.6L424.6 325.0L437.4 323.1L450.8 321.9L464.8 321.4L479.1 321.6L493.5 322.7L507.7 324.5L518.2 326.4L531.6 329.5L544.2 333.3L555.9 337.8L563.9 341.6L573.3 347.1L579.4 351.5L586.1 357.7L589.9 362.6L593.4 369.3L594.7 374.5L595.0 377.9L594.8 381.4L593.5 386.5L589.9 393.2L585.9 398.1L580.8 402.8L574.6 407.3L564.6 412.8L556.0 416.6L546.5 420.0L536.1 423.0L525.0 425.6L513.2 427.7L492.2 430.1L470.1 431.1L447.4 430.6L424.7 428.5L402.4 424.9L381.3 419.9L361.7 413.4L344.4 405.8L335.2 400.7L329.6 397.0L322.2 391.4L318.0 387.4L312.6 381.3L309.8 377.1L306.6 370.7L305.3 366.4L304.5 359.8L304.7 355.5L306.3 349.0L308.2 344.7L310.7 340.4L313.9 336.3L317.7 332.2L322.2 328.3L332.9 320.8L345.9 313.9L361.2 307.8L378.4 302.6L397.4 298.3L417.8 295.2L439.4 293.1L461.8 292.2L484.8 292.6L507.9 294.2L525.1 296.2L547.6 299.9L569.2 304.8L589.6 310.9L603.9 316.2L621.4 324.0L633.0 330.5L640.1 335.0L646.5 339.8L655.0 347.2L659.7 352.3L663.8 357.6L668.4 365.6L670.5 371.1L671.9 376.6L672.4 384.9L671.7 390.4L670.2 395.9L666.4 404.0L662.8 409.3L658.4 414.5L650.4 422.1L644.0 427.0L636.9 431.6L624.8 438.3L611.2 444.4L596.0 449.9L573.7 456.2L549.3 461.3L523.0 465.1L495.4 467.4L466.8 468.1L437.6 467.3L408.4 465.0L386.7 462.2L358.4 457.1L331.3 450.6L305.9 442.6L288.1 435.7L277.0 430.8L266.6 425.5L256.9 420.0L247.9 414.2L239.7 408.2L232.3 402.0L222.8 392.4L217.7 385.7L213.4 379.0L210.2 372.1L207.9 365.2L206.7 358.2L206.4 351.2L207.2 344.2L208.9 337.3L211.5 330.4L215.0 323.5L219.4 316.8L227.3 307.0L233.6 300.7L240.5 294.5L248.1 288.5L260.5 279.9L279.0 269.3L288.9 264.4L304.6 257.5L315.4 253.3L332.3 247.5L343.8 244.1L361.5 239.5L373.5 236.8L391.8 233.4L404.1 231.6L422.6 229.4L453.4 227.5L484.0 227.6L514.0 229.8L543.2 233.9L571.6 240.0L599.1 248.0L625.7 257.8L651.7 269.3L666.9 277.1L676.8 282.6L691.1 291.4L700.1 297.5L708.6 303.9L716.6 310.5L723.9 317.4L730.6 324.4L736.5 331.5L741.6 338.9L745.9 346.3L749.4 353.9L751.9 361.5L753.5 369.2L754.1 376.9L753.6 384.6L752.2 392.3L749.8 400.0L744.1 411.3L736.1 422.3L725.8 433.0L713.1 443.2L703.4 449.6L687.0 458.9L675.0 464.6L655.2 472.6L640.9 477.5L618.1 484.1L602.0 487.9L576.6 492.9L558.9 495.6L531.5 498.8L512.7 500.2L483.8 501.5L464.3 501.7L434.7 501.0L414.9 499.9L385.3 497.2L365.7 494.7L336.8 490.1L318.0 486.3L290.5 479.8L272.8 474.8L247.5 466.4L231.5 460.3L209.0 450.4L195.1 443.3L176.1 431.9L164.7 423.9L154.4 415.7L145.2 407.2L137.3 398.4L133.8 393.9L127.7 384.9L125.1 380.3L120.9 371.1L119.2 366.4L116.8 357.0L116.1 352.3L115.3 342.9L115.4 338.2L116.3 328.7L119.4 314.6L124.6 300.7L131.6 287.1L137.2 278.1L143.4 269.3L154.0 256.5L169.9 240.1L187.4 224.6L206.0 210.1L225.4 196.6L249.8 181.2L278.5 164.8L313.6 146.5L341.0 133.4L363.2 124.1L384.9 116.7L406.5 110.9L427.9 106.9L449.1 104.6L459.5 104.1L473.2 104.1L486.5 104.8L499.2 106.2L511.3 108.3L522.5 111.0L532.8 114.3L542.0 118.1L549.9 122.3L556.6 127.0L561.7 132.0L565.4 137.2L567.4 142.5L567.8 148.0L566.5 153.4L563.5 158.6L558.9 163.7L552.7 168.5L544.9 172.9L538.2 176.0L528.0 179.5L516.7 182.5L504.3 184.9L494.4 186.2L480.7 187.3L466.4 187.7L451.9 187.3L441.0 186.4L426.6 184.7L416.0 182.8L402.3 179.7L392.5 176.9L380.4 172.6L372.0 168.9L361.9 163.6L355.4 159.2L348.0 153.0L343.7 148.1L340.4 143.1L338.1 137.9L337.3 134.5L336.9 131.0L337.3 125.7L338.9 120.6L341.7 115.4L347.2 108.9L352.6 104.1L359.1 99.7L366.7 95.5L375.3 91.6L384.9 88.1L402.7 83.2L414.4 80.8L426.7 79.0L448.4 77.0L461.9 76.5L475.6 76.6L498.7 78.0L512.5 79.5L526.0 81.6L547.8 86.4L560.2 89.9L572.0 93.9L589.7 101.6L599.2 106.7L604.9 110.4L612.5 116.1L616.9 120.1L622.5 126.2L625.5 130.5L628.8 136.9L630.3 141.3L631.3 147.9L631.1 152.3L629.7 159.0L627.9 163.3L623.9 169.7L620.5 173.9L616.4 178.0L611.7 182.0L600.5 189.5L586.9 196.3L571.1 202.3L553.3 207.5L533.8 211.6L512.9 214.7L490.9 216.5L468.0 217.2L444.7 216.7L421.3 214.9L398.2 211.8L375.7 207.5L354.3 202.0L339.1 197.2L320.3 189.8L303.5 181.4L289.0 172.3L279.8 164.9L274.5 159.8L269.9 154.6L264.4 146.5L261.8 141.0L259.9 135.5L258.5 127.1L258.7 121.5L259.6 115.9L262.6 107.6L265.7 102.2L269.6 96.8L276.9 89.0L282.8 84.0L289.5 79.1L301.0 72.2L314.1 65.8L328.8 59.9L345.0 54.6L362.4 50.1L381.1 46.2L400.7 43.2L421.3 40.9L442.5 39.5L464.3 39.0L479.0 39.1L501.2 40.0L523.5 41.9L545.5 44.6L560.0 46.9L581.2 51.1L601.8 56.1L621.4 62.0L633.9 66.3L651.6 73.4L667.9 81.2L682.6 89.6L691.4 95.5L703.2 104.8L709.9 111.3L718.4 121.3L722.8 128.1L727.7 138.5L729.6 145.6L730.5 152.7L730.1 163.3L728.5 170.4L724.5 180.8L718.5 191.1L710.7 201.1L704.6 207.6L694.1 217.0L682.2 225.9L669.1 234.3L659.7 239.6L644.8 247.1L629.0 254.0L612.5 260.2L595.4 265.7L577.8 270.6L559.9 274.7L541.7 278.1L523.4 280.7L505.1 282.6L486.8 283.8L468.6 284.3L438.8 283.4L421.2 281.9L404.0 279.7L387.1 276.8L370.6 273.3L354.5 269.1L338.7 264.2L323.3 258.7L308.2 252.7L293.5 246.0L274.1 236.1L259.9 228.1L246.2 219.4L233.3 210.3L221.5 200.6L210.8 190.5L204.6 183.5L196.5 172.8L192.1 165.5L187.0 154.3L184.8 146.7L183.4 139.1L183.0 131.5L184.3 120.1L186.4 112.5L189.5 105.0L193.6 97.6L201.7 86.7L208.3 79.7L216.0 72.8L224.7 66.2L239.5 56.7L250.6 50.8L262.6 45.1L275.4 39.8L289.1 34.8L303.6 30.2L318.8 26.1L334.8 22.3L359.9 17.5L377.3 14.8L395.2 12.7L413.6 11.0L432.3 9.8L451.3 9.1L470.5 9.0L489.9 9.3L509.4 10.2L528.8 11.6L548.2 13.5L567.5 16.0L586.5 19.0L605.2 22.4L623.5 26.4L641.3 30.8L658.7 35.8L675.4 41.2L691.4 47.0L706.7 53.2L721.2 59.9L734.8 66.9L747.4 74.3L759.1 82.0L769.7 90.0L779.2 98.3L787.5 106.8L791.3 111.1L797.8 119.9L803.1 128.9L807.1 138.0L809.9 147.2L811.6 156.4L812.2 165.7L811.7 175.0L810.2 184.3L807.8 193.5L804.4 202.6L800.2 211.6L795.3 220.5L789.6 229.3L779.8 242.1L772.5 250.4L760.6 262.5L747.8 274.1L734.1 285.2L719.9 295.7L705.2 305.6L690.4 314.9L670.5 326.4L651.0 336.8L632.2 346.2L606.2 358.5L583.0 368.8L561.8 377.3L545.0 383.1L528.9 387.8L513.2 391.5L497.8 394.1L482.8 395.6L468.3 396.2L454.5 395.9L441.4 394.6L426.9 391.9L414.3 388.2L403.6 383.5L395.4 378.1L392.3 375.1L389.9 372.1L388.2 368.9L387.2 365.7L387.0 362.5L387.5 359.3L388.8 356.1L390.9 353.0L393.6 350.0L397.2 347.1L402.9 343.5L409.8 340.3L417.8 337.4L426.7 335.0L436.5 333.1L446.9 331.8L466.4 330.8L477.9 331.1L489.5 332.0L509.3 335.1L520.0 337.7L527.6 340.0L537.1 343.5L543.7 346.5L551.4 350.8L556.5 354.3L562.0 359.3L565.3 363.2L568.3 368.6L569.6 372.7L569.8 378.3L569.0 382.4L566.3 387.8L563.3 391.8L559.4 395.6L554.5 399.3L546.8 403.8L540.0 406.9L532.5 409.7L524.3 412.2L506.0 416.1L489.3 418.2L468.0 419.1L449.7 418.6L427.8 416.3L410.1 413.1L393.4 408.7L378.2 403.3L364.8 396.9L353.6 389.6L348.1 384.9L344.9 381.7L341.1 376.7L339.2 373.3L337.1 368.1L336.4 364.6L336.3 359.3L336.9 355.8L338.7 350.6L340.6 347.2L344.4 342.2L347.6 338.9L355.4 332.7L365.2 327.0L376.8 321.8L390.0 317.3L404.7 313.6L420.7 310.7L437.7 308.7L451.0 307.7L469.3 307.4L487.8 308.0L506.4 309.6L520.1 311.5L538.0 314.9L555.1 319.2L571.1 324.3L582.2 328.8L595.6 335.4L604.6 340.7L614.7 348.4L620.9 354.5L624.3 358.7L627.1 363.0L630.2 369.5L631.5 373.9L632.1 378.4L631.8 385.0L630.8 389.5L629.1 393.9L625.4 400.3L622.1 404.5L618.1 408.7L610.9 414.6L599.2 422.1L588.9 427.2L577.4 431.9L564.6 436.1L550.9 439.8L541.2 441.9L520.6 445.4L498.8 447.7L476.0 448.8L452.7 448.7L429.2 447.3L405.8 444.6L382.9 440.7L361.0 435.6L340.3 429.4L321.2 422.0L304.1 413.7L289.3 404.6L282.8 399.7L277.0 394.7L271.9 389.5L267.6 384.2L262.4 376.1L260.0 370.6L258.3 365.0L257.5 359.4L257.4 353.7L258.3 348.1L259.9 342.5L262.4 337.0L265.7 331.5L269.8 326.2L274.8 320.9L280.4 315.9L286.8 310.9L293.8 306.2L301.5 301.6L309.8 297.3L323.3 291.2L338.0 285.7L348.4 282.4L370.4 276.6L394.0 272.1L418.9 268.8L444.8 266.9L471.7 266.5L499.3 267.5L527.4 270.0L555.5 274.0L583.0 279.5L609.5 286.5L628.4 292.6L651.9 302.0L668.1 309.7L678.0 315.3L687.3 321.1L699.7 330.3L707.0 336.6L713.4 343.2L721.3 353.3L725.4 360.2L728.6 367.2L731.4 377.8L732.0 384.9L731.6 392.0L730.2 399.1L729.0 402.7L726.0 409.7L721.9 416.6L713.9 426.7L703.5 436.5L690.9 445.8L676.1 454.6L665.0 460.0L646.8 467.7L633.7 472.3L612.4 478.6L597.4 482.4L573.6 487.2L548.5 491.0L522.4 493.7L504.5 495.0L477.0 496.0L458.4 496.0L430.2 495.1L411.4 493.8L383.3 491.0L364.8 488.5L337.4 483.9L319.5 480.2L293.6 473.7L276.9 468.8L253.0 460.7L238.0 454.7L216.9 445.0L203.9 438.1L186.1 427.2L175.5 419.5L161.7 407.5L153.8 399.1L147.1 390.6L141.7 382.0L137.4 373.2L134.4 364.3L132.5 355.3L131.9 350.8L131.7 341.8L132.5 332.8L135.5 319.3L138.7 310.5L145.0 297.4L150.2 288.8L159.4 276.2L170.0 264.0L181.8 252.3L194.7 241.0L208.4 230.3L222.8 220.2L242.7 207.6L263.1 196.1L283.5 185.7L303.5 176.4L327.6 166.2L354.0 156.1L387.1 144.5L408.1 138.0L428.5 132.8L446.2 129.7L463.4 128.3L477.9 128.8L484.8 129.8L490.8 131.2L495.8 133.0L500.6 135.5L503.8 138.4L505.4 141.4L505.4 144.5L503.9 147.6L500.8 150.5L496.2 153.1L488.2 155.8L479.7 157.4L468.8 158.2L458.7 157.9L447.3 156.5L437.9 154.2L429.6 151.0L422.8 147.2L417.9 142.8L416.1 140.1L415.3 138.1L414.9 135.3L415.1 133.2L417.0 129.1L419.2 126.5L421.5 124.6L427.2 121.2L435.9 117.8L444.8 115.7L453.1 114.5L461.9 113.9L471.0 113.8L480.2 114.4L489.3 115.6L498.1 117.5L506.3 119.8L513.7 122.7L520.1 126.1L525.3 129.9L529.2 133.9L531.3 137.4L532.4 141.7L532.2 145.3L530.5 149.6L527.9 153.0L524.3 156.2L519.7 159.2L509.5 163.7L496.8 167.1L482.3 169.3L466.5 170.0L450.1 169.2L434.1 166.9L419.1 163.1L405.9 157.9L399.5 154.5L395.3 151.7L390.6 147.7L387.9 144.6L385.8 141.4L384.4 138.1L383.6 133.6L383.9 130.2L384.9 126.9L386.7 123.6L389.3 120.5L392.5 117.4L396.5 114.5L401.2 111.7L412.4 106.9L426.0 103.0L441.4 100.4L455.3 99.1L472.7 98.9L490.5 100.1L507.9 102.7L521.7 105.9L536.8 111.0L547.8 116.1L553.6 119.4L558.7 123.1L565.5 129.5L568.5 133.5L570.6 137.7L571.9 141.9L572.2 144.7L571.8 149.0L571.1 151.8L569.2 155.9L567.4 158.7L562.5 164.0L556.1 168.9L548.0 173.5L538.6 177.7L527.8 181.2L515.8 184.2L502.8 186.5L492.5 187.7L478.2 188.7L463.5 188.9L448.5 188.4L437.3 187.4L422.5 185.4L411.6 183.4L397.7 180.1L387.8 177.1L375.6 172.5L367.1 168.6L357.1 163.0L350.6 158.4L343.4 152.0L339.3 146.9L335.4 140.0L333.8 134.6L333.4 131.0L333.5 127.5L334.7 122.1L337.0 116.8L340.6 111.6L347.2 105.0L353.5 100.3L360.9 95.9L369.3 91.8L378.8 88.0L389.1 84.7L408.2 80.1L420.6 78.0L433.7 76.4L456.3 74.9L470.4 74.8L484.6 75.2L508.3 77.2L522.3 79.2L536.1 81.7L558.0 87.1L570.3 91.0L581.9 95.4L592.6 100.3L599.2 103.8L608.2 109.3L613.6 113.2L620.7 119.2L624.7 123.4L629.6 129.9L632.1 134.3L634.7 141.0L635.6 145.6L635.7 152.4L634.9 156.9L632.5 163.6L630.0 168.1L625.0 174.6L620.9 178.8L616.1 182.8L610.7 186.8L598.0 194.2L583.0 200.8L565.8 206.6L546.7 211.5L525.9 215.2L503.9 217.8L480.8 219.2L457.0 219.3L433.0 218.1L409.0 215.7L385.5 211.9L362.9 206.9L341.5 200.8L326.4 195.4L308.0 187.3L291.8 178.4L284.6 173.6L278.1 168.6L269.6 160.8L264.8 155.4L260.8 149.9L256.3 141.5L254.3 135.8L253.1 130.1L252.9 121.5L253.8 115.7L255.6 110.0L259.9 101.6L263.8 96.1L268.6 90.7L277.3 82.9L284.1 77.8L291.7 73.0L304.6 66.2L314.0 62.0L324.2 58.0L340.7 52.6L358.6 47.9L377.7 43.9L397.9 40.7L418.9 38.3L440.7 36.8L463.1 36.2L485.8 36.5L501.0 37.3L523.8 39.1L546.5 41.9L568.8 45.5L583.3 48.5L604.5 53.6L624.7 59.6L643.8 66.3L655.8 71.2L672.6 79.2L687.8 87.8L701.2 97.0L709.1 103.4L719.3 113.4L724.9 120.3L731.5 130.8L734.6 138.0L736.7 145.2L737.4 148.8L737.9 156.1L737.4 163.4L734.9 174.3L732.0 181.5L726.2 192.0L718.5 202.4L709.1 212.3L702.0 218.7L690.2 228.0L677.2 236.7L663.0 244.9L647.9 252.6L632.0 259.5L615.4 265.9L598.3 271.5L580.8 276.5L563.1 280.7L545.1 284.2L527.1 287.0L509.2 289.1L491.4 290.5L473.8 291.1L456.5 291.0L439.5 290.3L422.9 288.8L406.8 286.7L391.1 284.0L375.9 280.6L361.1 276.7L346.8 272.1L333.0 267.0L319.6 261.3L302.4 253.0L289.9 246.1L273.7 236.1L257.9 225.3L246.4 216.7L235.5 207.5L225.5 198.0L216.6 188.1L211.3 181.3L204.7 170.8L201.1 163.7L197.3 152.9L195.7 145.7L194.9 134.7L195.6 127.4L198.2 116.5L201.1 109.3L207.3 98.7L212.5 91.8L222.3 81.8L229.9 75.3L238.5 69.0L248.0 63.0L263.8 54.5L275.5 49.2L288.0 44.2L301.2 39.6L322.4 33.3L337.4 29.7L353.0 26.4L369.1 23.5L394.3 20.1L411.6 18.4L447.2 16.4L483.7 16.3L520.6 18.2L539.0 19.9L557.3 22.1L575.3 24.8L593.1 27.9L610.6 31.5L627.6 35.6L652.2 42.6L667.9 47.8L682.9 53.4L697.2 59.4L710.7 65.8L723.3 72.5L735.1 79.6L750.9 90.7L760.1 98.5L768.3 106.5L775.3 114.7L778.4 118.9L783.7 127.3L785.9 131.6L789.4 140.2L791.7 148.9L792.4 153.3L793.1 162.1L792.7 170.9L791.3 179.6L788.9 188.3L785.7 196.9L781.6 205.4L776.7 213.8L767.9 226.2L761.2 234.2L754.0 242.0L742.0 253.3L724.5 267.7L705.5 281.0L685.5 293.3L664.9 304.5L638.9 317.0L613.3 327.7L588.8 336.7L561.7 345.4L534.3 353.0L504.9 360.0L480.5 364.4L471.0 365.3L463.5 365.3L460.8 364.9L459.3 364.3L459.1 363.5L460.3 362.8L466.4 361.9L473.8 362.6L480.4 364.5L484.8 367.3L486.0 368.8L486.6 370.4L486.5 372.0L485.7 373.5L484.2 375.0L482.0 376.3L476.6 378.2L469.0 379.2L461.3 378.9L453.9 377.6L447.7 375.2L443.5 372.0L442.4 370.4L441.9 368.7L442.1 366.7L443.0 365.1L446.5 362.1L450.3 360.4L455.1 359.0L460.6 358.2L466.6 357.9L472.8 358.2L478.9 359.0L484.6 360.4L489.0 362.0L493.2 364.3L496.0 366.6L497.9 369.4L498.4 372.0L497.8 374.5L496.0 376.9L493.1 379.2L489.3 381.2L483.6 383.0L477.8 384.1L471.6 384.8L465.0 384.9L458.2 384.5L451.6 383.5L445.3 382.0L439.7 380.1L434.8 377.7L431.0 374.9L428.3 371.9L427.1 369.3L426.9 366.1L427.8 363.4L430.2 360.4L433.3 358.0L440.2 354.8L447.7 352.6L456.5 351.2L466.1 350.7L476.1 351.1L485.9 352.4L495.1 354.7L503.2 357.7L509.8 361.5L514.0 365.1L515.9 367.7L516.9 369.7L517.5 373.8L516.8 376.5L515.8 378.5L512.5 382.3L507.4 385.8L500.7 388.8L492.6 391.3L483.3 393.0L473.2 393.9L462.5 394.0L451.7 393.2L441.1 391.6L431.2 389.1L423.6 386.4L415.8 382.6L410.4 379.0L405.8 374.3L403.4 370.1L402.7 367.5L402.6 364.9L403.7 360.6L406.4 356.5L410.7 352.5L415.2 349.6L420.6 347.0L432.1 343.2L439.6 341.5L447.7 340.3L462.9 339.2L481.1 339.7L496.8 341.8L511.7 345.3L524.8 350.2L531.2 353.5L535.5 356.2L540.3 360.0L543.2 363.0L546.0 367.2L547.4 370.5L548.0 373.7L548.0 377.0L546.7 381.3L545.0 384.5L542.5 387.6L539.2 390.6L533.9 394.4L529.1 397.0L517.6 401.6L504.0 405.1L488.7 407.5L472.1 408.6L457.8 408.5L440.5 407.1L426.3 404.8L410.3 400.9L398.1 396.7L385.4 390.6L376.8 384.9L370.2 378.6L367.3 374.6L365.9 371.9L364.4 367.8L363.9 365.1L364.0 360.9L364.5 358.2L366.1 354.1L367.7 351.4L370.8 347.4L373.4 344.9L379.8 340.0L387.7 335.6L396.9 331.5L407.5 328.1L419.3 325.2L432.0 323.0L445.5 321.5L456.0 320.8L470.4 320.6L485.1 321.2L499.7 322.6L510.5 324.1L524.5 326.9L534.6 329.4L547.4 333.4L556.3 336.8L567.0 341.9L574.2 346.1L582.4 352.1L587.5 356.9L592.7 363.5L595.3 368.7L597.1 375.6L597.0 380.9L596.4 384.4L595.2 387.8L592.4 393.0L588.5 398.0L583.5 402.8L575.0 408.8L567.4 413.0L558.8 416.9L549.2 420.4L531.3 425.4L515.6 428.4L494.4 431.0L476.5 432.0L453.6 431.9L435.0 430.7L416.6 428.5L398.6 425.3L377.3 420.0L361.4 414.8L346.9 408.7L334.1 401.9L323.1 394.4L314.2 386.5L310.6 382.3L307.6 378.1L305.2 373.8L303.4 369.4L302.2 365.0L301.7 360.5L301.8 356.1L302.6 351.7L304.1 347.3L306.2 342.9L309.0 338.6L312.4 334.4L316.5 330.3L321.2 326.4L332.4 318.8L346.1 312.0L357.8 307.3L375.1 301.9L394.2 297.5L414.9 294.1L431.2 292.4L453.7 291.1L477.0 291.0L500.5 292.2L518.0 293.9L541.1 297.2L558.0 300.6L579.5 306.1L594.8 310.9L613.7 318.3L626.5 324.5L641.7 333.5L651.5 340.8L657.2 345.8L662.2 351.0L668.2 359.0L671.3 364.5L673.7 370.0L675.6 378.4L675.9 384.0L675.4 389.6L673.0 398.0L668.8 406.3L662.7 414.3L654.7 422.0L644.9 429.4L633.4 436.4L624.8 440.7L610.6 446.8L600.3 450.6L583.7 455.6L571.9 458.6L553.2 462.5L533.4 465.6L512.8 467.8L498.7 468.9L477.0 469.7L462.3 469.8L440.0 469.2L425.1 468.3L402.9 466.1L388.1 464.2L366.4 460.6L352.2 457.7L331.6 452.7L318.3 448.8L299.3 442.5L287.3 437.8L270.5 430.2L260.1 424.8L245.8 416.2L237.3 410.1L226.1 400.6L219.8 394.1L212.0 383.9L208.0 377.0L205.0 370.0L203.0 363.0L202.0 355.8L202.1 348.7L203.1 341.6L205.1 334.6L208.0 327.6L214.0 317.2L218.9 310.5L224.7 303.9L231.1 297.5L242.1 288.2L250.1 282.3L258.7 276.5L267.9 271.1L282.4 263.3L303.2 254.0L314.2 249.7L331.1 243.9L342.6 240.4L360.3 235.8L372.3 233.1L390.4 229.6L420.8 225.5L451.2 223.4L481.2 223.4L510.4 225.3L538.7 229.2L566.0 235.0L592.2 242.6L607.4 247.9L622.3 253.9L646.4 265.2L660.6 272.7L674.5 280.8L687.9 289.4L696.4 295.5L708.4 305.0L715.7 311.6L725.6 321.8L731.4 328.9L736.4 336.1L740.7 343.4L744.2 350.8L746.8 358.3L748.4 365.8L749.2 373.4L749.0 381.0L747.8 388.6L745.7 396.1L742.5 403.6L738.3 410.9L733.1 418.2L723.4 428.7L711.5 438.8L702.3 445.3L686.7 454.5L675.2 460.2L656.3 468.3L642.6 473.2L620.6 479.8L605.1 483.8L580.5 488.9L563.5 491.7L536.9 495.1L518.6 496.7L490.5 498.2L471.5 498.6L452.3 498.5L433.0 497.8L404.0 495.9L384.7 493.9L356.1 490.0L337.4 486.8L310.0 481.0L292.3 476.6L275.1 471.6L258.5 466.3L234.9 457.4L220.2 451.0L206.3 444.1L193.3 436.9L175.6 425.6L165.2 417.6L155.8 409.3L147.6 400.9L140.6 392.2L134.8 383.3L130.2 374.3L126.9 365.2L124.8 356.1L123.7 346.9L123.8 337.6L124.9 328.4L126.9 319.3L129.9 310.2L133.7 301.1L141.0 287.9L146.7 279.2L156.6 266.5L164.0 258.2L175.9 246.2L188.8 234.8L202.5 223.8L216.9 213.4L231.6 203.7L246.5 194.5L266.5 183.2L286.1 172.9L305.0 163.7L331.3 151.8L354.6 141.8L372.1 134.8L388.6 129.0L404.2 124.3L419.3 120.6L433.8 117.9L450.7 115.9" stroke="#ff6200" stroke-dasharray="9.5 9.5"/>
</g>
<path d="M103.7,2.2H830.5V506.2H103.7ZM122.80,506.2v-7.7M122.80,2.2v7.7M294.80,506.2v-7.7M294.80,2.2v7.7M466.80,506.2v-7.7M466.80,2.2v7.7M638.80,506.2v-7.7M638.80,2.2v7.7M810.80,506.2v-7.7M810.80,2.2v7.7M103.7,100.04h7.7M830.5,100.04h-7.7M103.7,254.20h7.7M830.5,254.20h-7.7M103.7,408.36h7.7M830.5,408.36h-7.7" fill="none" stroke="#262626" stroke-width="1.6"/>
<text x="72.89" y="577.10" font-size="62" fill="#262626">-0.4</text>
<text x="246.13" y="577.10" font-size="62" fill="#262626">-0.2</text>
<text x="451.30" y="577.10" font-size="62" fill="#262626">0</text>
<text x="600.67" y="577.10" font-size="62" fill="#262626">0.2</text>
<text x="771.43" y="577.10" font-size="62" fill="#262626">0.4</text>
<text x="59.16" y="122.04" font-size="63.5" fill="#262626">2</text>
<text x="57.89" y="276.20" font-size="63.5" fill="#262626">0</text>
<text x="37.57" y="430.36" font-size="63.5" fill="#262626">-2</text>
<text x="417.21" y="622.90" font-size="69" fill="#262626">y(t)</text>
<text x="44.40" y="303.07" font-size="69" fill="#262626" transform="rotate(-90 44.40 303.07)">z(t)</text>
<text x="403.68" y="683.90" font-size="29.5" fill="#262626">(a)</text>
<rect x="704.1" y="11.2" width="118.30" height="87.40" fill="#fff" stroke="#262626" stroke-width="1.4"/>
<path d="M707 33.7H738" stroke="#0000ff" stroke-width="3.0"/>
<path d="M707 76H738" stroke="#ff6200" stroke-width="3.0" stroke-dasharray="9.5 9.5"/>
<text x="739.90" y="47.70" font-size="37.5" fill="#000">Chua</text>
<text x="740.27" y="89.40" font-size="37.5" fill="#000">RC</text>
<clipPath id="cb"><rect x="1046.8" y="13.6" width="712.5" height="509.6"/></clipPath>
<g clip-path="url(#cb)" fill="none" stroke-width="2.9" stroke-linejoin="round">
<path d="M1099.3 320.9L1075.9 304.2L1061.7 279.4L1054.8 253.0L1060.3 235.6L1071.3 210.9L1088.9 195.9L1116.3 189.4L1157.7 196.8L1199.3 213.2L1229.8 232.7L1250.7 246.1L1263.2 262.2L1292.7 308.9L1318.1 359.9L1347.3 409.0L1390.9 462.6L1434.1 505.7L1481.2 523.0L1527.0 514.3L1579.3 489.7L1635.6 443.9L1687.0 387.9L1728.4 323.7L1752.2 256.1L1756.8 191.1L1747.6 141.6L1729.8 114.2L1700.2 79.5L1660.7 62.5L1617.4 52.1L1581.0 48.8L1526.0 54.1L1484.7 65.2L1442.8 94.5L1400.2 135.7L1356.7 176.3L1306.4 212.2L1268.3 241.8L1240.5 251.5L1212.0 264.6L1183.8 272.1L1150.3 273.4L1119.2 269.2L1095.4 261.5L1075.4 253.7L1067.2 244.6L1064.8 234.3L1072.0 229.2L1084.8 221.2L1099.7 216.3L1125.8 213.8L1159.7 208.6L1198.1 212.6L1232.2 222.6L1260.1 234.8L1281.8 256.0L1305.8 293.2L1327.4 324.1L1360.9 359.3L1399.0 399.2L1430.0 432.6L1466.0 449.8L1494.8 455.2L1549.8 435.7L1597.4 406.9L1635.8 363.2L1664.5 300.7L1675.7 249.5L1675.5 224.3L1669.1 205.5L1658.5 187.8L1628.4 166.8L1598.7 155.5L1575.9 150.0L1525.3 150.1L1490.1 156.5L1463.5 166.1L1419.2 208.5L1389.3 243.6L1360.8 275.5L1333.9 298.1L1304.0 316.5L1264.9 349.1L1228.9 376.2L1200.3 393.3L1165.6 396.4L1131.3 388.1L1099.7 372.4L1074.5 347.3L1059.3 310.2L1049.5 266.7L1052.8 236.5L1060.1 203.9L1080.6 182.7L1109.8 172.3L1151.2 177.3L1196.8 195.3L1232.6 218.6L1255.6 239.0L1273.3 259.8L1297.2 302.3L1321.2 345.6L1350.9 391.2L1393.8 439.6L1432.4 476.4L1476.8 494.1L1514.9 492.9L1567.1 468.3L1620.0 430.8L1665.5 378.7L1701.5 315.4L1724.4 251.1L1726.0 204.4L1716.7 165.9L1701.4 141.0L1672.8 114.5L1637.3 96.1L1602.9 90.0L1559.2 86.1L1513.5 93.6L1478.1 103.0L1434.5 137.5L1396.1 180.0L1356.8 215.9L1317.6 246.3L1283.8 270.4L1251.4 289.1L1217.6 302.2L1190.2 310.9L1154.8 313.4L1122.5 309.6L1096.9 299.6L1076.9 284.8L1064.1 266.0L1061.2 246.1L1066.3 231.8L1076.6 214.9L1094.3 206.4L1120.7 199.1L1157.5 199.7L1196.2 207.2L1233.4 218.3L1259.1 235.4L1279.4 257.5L1301.4 295.8L1328.7 331.0L1358.5 373.9L1398.0 418.6L1429.0 453.3L1470.2 470.4L1502.9 473.7L1556.7 449.5L1607.3 420.0L1650.8 372.1L1683.7 306.9L1697.7 250.2L1699.6 216.0L1693.4 186.3L1677.8 166.4L1649.8 141.9L1616.7 125.5L1587.7 119.5L1541.1 120.1L1501.3 130.0L1470.9 134.8L1428.3 175.2L1392.2 214.9L1357.9 247.3L1328.2 276.7L1297.0 298.5L1259.1 325.6L1222.7 343.4L1195.5 352.4L1159.7 356.0L1127.3 348.5L1098.5 336.4L1077.7 314.8L1060.2 287.6L1054.6 257.1L1059.1 234.4L1067.7 209.2L1084.4 191.7L1117.1 184.4L1155.3 191.6L1198.7 210.3L1229.0 229.7L1251.1 246.3L1263.4 263.2L1292.2 308.0L1318.9 355.2L1350.5 403.0L1392.6 453.3L1434.7 494.9L1480.9 509.3L1523.2 507.6L1574.5 481.5L1629.5 439.1L1678.4 385.8L1717.6 319.1L1739.3 254.1L1746.1 197.4L1734.7 152.0L1720.3 126.9L1690.1 96.1L1651.5 76.7L1611.6 68.2L1573.7 65.3L1520.3 71.2L1482.0 79.0L1441.7 112.8L1399.2 149.6L1355.5 189.0L1309.7 220.4L1269.2 246.4L1244.4 261.3L1211.5 278.7L1184.6 290.4L1152.5 294.6L1120.5 290.3L1093.2 281.5L1074.3 267.8L1066.2 254.2L1062.5 240.7L1069.3 229.2L1080.1 219.2L1096.1 209.8L1122.9 207.3L1159.8 203.6L1198.0 207.2L1233.5 216.6L1260.4 232.6L1284.1 256.0L1306.5 294.1L1332.2 323.2L1359.4 360.1L1399.6 403.7L1429.2 437.2L1463.6 454.1L1496.2 457.4L1550.7 439.3L1597.0 408.8L1639.7 365.4L1665.6 301.1L1680.5 250.2L1680.7 223.4L1676.4 202.5L1661.1 184.7L1634.6 163.5L1602.4 150.3L1577.7 145.7L1528.5 144.4L1492.6 153.5L1465.4 159.6L1421.8 201.7L1390.7 239.5L1360.1 275.8L1333.7 297.3L1304.0 317.1L1266.4 349.9L1229.8 379.8L1200.0 395.5L1164.1 400.5L1131.4 392.3L1100.2 375.4L1074.1 347.7L1057.7 310.3L1049.0 266.8L1053.1 237.7L1059.7 203.4L1080.3 180.8L1108.5 171.6L1150.9 178.1L1197.5 194.7L1232.6 217.2L1255.1 237.1L1272.1 257.5L1299.3 302.1L1323.7 342.9L1352.9 385.4L1396.7 432.0L1429.8 465.2L1473.0 487.1L1510.5 485.3L1564.1 461.1L1616.2 427.3L1662.0 376.4L1694.4 312.0L1713.6 253.8L1718.6 207.8L1706.3 172.6L1693.4 152.6L1665.6 124.2L1629.2 109.8L1595.9 102.1L1553.3 99.8L1509.7 107.3L1474.8 114.0L1432.8 152.0L1395.4 190.4L1357.1 224.1L1318.6 252.5L1284.5 274.6L1254.7 299.8L1219.8 320.0L1192.1 336.7L1156.0 340.7L1126.8 333.8L1097.6 323.7L1076.7 302.0L1062.3 278.2L1057.0 250.3L1062.4 231.5L1071.7 211.5L1090.5 197.0L1116.9 191.2L1158.2 195.2L1199.5 210.0L1230.2 227.7L1252.1 243.3L1268.6 260.6L1293.9 303.7L1322.6 349.0L1351.5 395.2L1393.2 443.2L1431.8 484.4L1477.6 501.1L1518.4 498.8L1570.1 475.5L1625.8 435.9L1672.7 380.8L1707.6 316.2L1728.6 253.0L1734.8 202.9L1726.4 158.1L1709.8 134.7L1680.9 106.0L1644.1 90.6L1607.6 81.8L1566.2 76.2L1518.7 85.6L1477.8 92.6L1436.6 126.7L1398.0 166.4L1355.9 203.7L1314.3 237.6L1277.8 262.6L1246.5 280.3L1215.0 291.9L1187.6 297.6L1153.4 302.8L1122.7 299.4L1095.9 286.9L1075.4 275.8L1065.1 257.9L1060.4 243.9L1067.7 229.8L1076.8 218.6L1092.5 207.4L1124.4 203.0L1159.1 201.5L1199.5 209.7L1231.7 222.8L1255.1 238.1L1276.0 257.3L1301.1 297.8L1326.1 336.8L1355.1 378.6L1395.5 424.4L1432.4 461.0L1472.4 478.7L1506.8 480.3L1559.4 456.6L1613.5 421.7L1656.3 372.0L1688.1 307.7L1706.0 251.5L1707.9 213.4L1701.1 180.1L1685.5 158.6L1656.6 131.8L1624.1 119.4L1593.1 110.3L1549.4 108.8L1504.6 115.6L1471.0 125.0L1432.0 163.2L1392.8 201.9L1357.9 238.0L1324.4 268.5L1291.6 291.1L1259.7 324.9L1228.2 362.8L1197.4 388.7L1164.1 393.0L1129.6 384.2L1099.8 368.4L1075.0 340.5L1055.5 305.2L1048.4 266.3L1053.9 235.8L1061.1 204.2L1082.4 181.4L1111.9 173.3L1153.4 184.4L1197.1 204.9L1229.8 225.7L1249.8 246.0L1261.5 261.9L1289.4 310.5L1320.4 358.5L1350.3 407.7L1392.9 457.8L1432.1 501.4L1482.5 515.9L1525.0 510.1L1576.7 484.1L1634.7 443.1L1681.8 384.8L1722.0 319.5L1746.6 254.6L1750.5 193.8L1742.1 146.9L1726.3 120.1L1695.9 87.3L1656.2 67.6L1616.6 57.6L1577.0 55.1L1525.9 60.8L1482.1 71.3L1443.5 102.1L1399.5 141.3L1356.7 180.7L1304.9 211.4L1266.3 241.6L1241.9 257.3L1211.4 272.0L1186.0 287.3L1152.6 289.0L1121.5 285.2L1095.6 277.0L1075.3 265.6L1067.1 252.6L1063.0 239.1L1068.4 230.5L1079.1 217.8L1098.0 212.5L1123.8 208.2L1160.7 207.3L1198.4 215.1L1231.4 225.7L1254.8 238.6L1276.2 256.5L1301.8 297.2L1326.4 333.9L1357.5 377.3L1395.4 421.9L1432.3 456.8L1471.6 477.3L1506.8 476.4L1558.3 454.5L1608.5 418.0L1653.2 371.4L1687.2 308.2L1701.7 250.6L1704.3 212.7L1696.4 182.6L1682.1 162.6L1654.0 139.3L1622.8 120.9L1593.0 115.9L1546.3 113.6L1503.7 122.2L1471.2 131.2L1429.5 168.2L1393.4 207.7L1359.1 242.5L1324.7 269.5L1290.6 290.1L1259.5 314.7L1222.3 333.1L1194.2 345.3L1158.6 347.7L1125.1 342.6L1098.5 327.2L1076.7 309.0L1062.3 282.7L1055.5 254.1L1061.1 232.7L1069.2 212.7L1088.3 194.6L1116.1 188.8L1157.0 192.8L1198.9 205.2L1231.0 223.1L1254.2 241.0L1269.2 262.8L1296.1 303.1L1323.9 345.1L1353.4 386.0L1393.3 436.2L1431.4 472.6L1473.1 492.3L1513.9 488.9L1565.6 465.7L1617.7 428.9L1665.4 378.3L1700.8 313.2L1718.9 253.3L1721.1 205.0L1715.1 168.2L1698.3 147.1L1668.4 119.6L1634.7 101.9L1600.5 93.4L1555.3 91.6L1510.8 100.2L1475.7 107.3L1434.3 145.4L1396.9 182.0L1357.5 217.8L1317.2 247.7L1281.1 270.8L1250.1 289.2L1216.2 308.2L1191.0 320.9L1154.9 321.6L1124.7 318.1L1095.0 307.8L1075.8 292.0L1063.8 270.6L1059.7 247.5L1064.0 230.5L1075.5 213.0L1090.7 202.7L1120.9 197.7L1159.9 200.9L1197.8 216.6L1229.3 231.1L1249.8 247.5" stroke="#0000ff"/>
<path d="M1379.0 0.0L1345.0 183.0L1323.0 292.0L1314.0 362.0L1297.0 446.0L1268.0 374.0L1222.0 265.0L1212.0 151.0L1174.0 167.0L1147.0 228.0L1136.0 272.0L1122.0 373.0L1091.0 413.0L1069.0 272.0L1072.0 151.0L1067.0 219.0L1089.0 241.0L1106.0 324.0L1099.3 321.1L1075.7 303.7L1061.4 278.8L1054.8 253.9L1060.0 235.3L1071.6 211.1L1089.0 195.3L1116.3 189.8L1156.9 196.5L1198.1 212.4L1228.7 232.6L1250.0 246.2L1263.3 262.1L1291.2 308.6L1318.1 359.9L1346.4 408.7L1390.3 462.1L1434.7 505.2L1481.2 523.6L1526.7 514.3L1579.3 489.7L1634.8 444.0L1687.8 387.0L1728.9 323.8L1751.8 257.3L1757.3 190.4L1747.6 141.9L1729.7 114.6L1700.2 79.9L1661.6 62.1L1617.5 51.8L1581.1 48.0L1525.6 54.0L1485.2 65.8L1442.0 94.0L1400.6 134.5L1356.4 176.2L1307.2 212.6L1268.1 241.6L1240.4 252.5L1211.7 264.5L1184.0 272.1L1150.2 272.7L1119.2 268.9L1096.1 261.9L1075.4 254.1L1067.0 245.2L1064.7 234.6L1071.2 229.4L1083.7 220.0L1099.5 215.8L1125.9 215.2L1159.2 208.2L1198.3 212.9L1232.1 222.5L1260.6 235.1L1281.2 255.9L1305.8 292.6L1327.6 323.6L1361.5 359.4L1399.1 398.8L1430.0 431.4L1465.4 450.0L1493.5 455.7L1548.7 436.2L1596.9 407.4L1635.9 362.3L1665.3 301.5L1675.7 249.4L1675.4 223.7L1669.7 205.2L1658.4 187.3L1628.1 166.1L1599.4 155.4L1576.4 150.0L1524.9 149.9L1489.8 156.5L1463.3 165.9L1418.4 208.0L1390.3 243.2L1360.1 275.7L1334.8 297.2L1303.9 316.1L1263.8 349.6L1228.8 376.2L1199.9 393.6L1165.3 396.3L1130.6 387.3L1100.5 372.1L1074.7 347.3L1059.0 309.9L1049.9 266.5L1052.7 236.5L1060.8 204.3L1080.8 182.4L1109.0 172.9L1151.8 177.3L1197.1 195.8L1233.1 219.2L1255.3 239.9L1272.5 260.3L1297.5 302.9L1322.3 346.5L1350.2 390.1L1394.3 439.0L1432.4 476.9L1475.8 492.8L1515.1 492.9L1566.9 468.3L1619.5 429.8L1665.4 378.1L1700.5 315.7L1724.4 251.4L1725.4 204.0L1716.1 165.3L1701.5 140.5L1673.0 114.7L1638.5 95.3L1603.4 89.9L1559.2 85.2L1513.2 94.0L1478.1 103.0L1434.3 138.2L1396.0 178.7L1356.4 214.7L1315.7 246.0L1284.6 270.5L1250.7 288.5L1218.3 302.3L1190.2 310.8L1154.9 313.9L1122.8 309.7L1096.3 299.9L1076.5 285.5L1063.4 265.9L1061.1 245.3L1067.4 232.7L1076.3 215.3L1094.5 204.8L1120.8 199.1L1157.6 199.0L1196.0 207.1L1234.1 218.5L1259.1 236.3L1279.1 257.3L1300.3 296.7L1329.3 331.5L1358.9 374.0L1398.1 418.5L1428.8 453.4L1471.1 470.8L1502.8 473.3L1556.3 450.5L1607.6 420.0L1650.6 371.5L1683.7 307.5L1697.4 250.1L1699.4 216.0L1692.4 186.2L1677.2 166.9L1649.4 142.2L1617.6 125.3L1587.4 119.6L1541.1 119.5L1501.6 131.2L1470.8 134.6L1427.7 175.3L1391.4 214.2L1358.7 246.8L1328.9 277.6L1297.2 298.8L1260.3 325.5L1222.3 342.6L1195.5 353.3L1160.2 355.4L1126.8 348.2L1098.7 336.3L1077.8 314.9L1060.1 287.6L1054.7 257.0L1059.4 235.5L1068.1 209.2L1083.4 191.9L1116.0 183.5L1155.8 192.0L1198.6 209.3L1228.8 229.3L1251.5 247.7L1263.6 262.7L1291.5 308.0L1318.8 354.5L1350.5 402.3L1393.2 453.9L1435.4 494.6L1481.2 509.2L1523.0 507.4L1573.7 480.6L1630.0 439.0L1678.5 386.4L1716.5 318.6L1739.4 254.3L1745.9 198.0L1734.9 151.3L1719.8 127.4L1690.4 94.9L1652.4 77.1L1612.4 68.0L1573.5 64.6L1521.8 71.1L1482.9 78.6L1441.8 111.8L1399.0 150.2L1354.7 189.6L1309.9 219.7L1268.9 246.1L1244.4 261.0L1211.0 278.5L1184.0 289.6L1152.5 295.2L1119.6 290.3L1092.8 280.9L1074.8 267.5L1067.1 253.7L1062.7 240.5L1068.8 229.6L1080.0 219.5L1096.1 209.1L1122.9 207.3L1160.3 203.1L1198.0 206.1L1233.8 215.9L1259.3 232.6L1284.7 255.1L1305.8 293.7L1331.5 323.5L1359.0 359.7L1400.0 403.3L1429.4 436.6L1462.9 453.0L1497.3 457.2L1550.9 439.3L1597.1 408.8L1640.8 364.8L1664.7 300.5L1679.7 250.6L1681.2 222.8L1675.6 202.3L1662.0 183.0L1634.9 162.9L1603.0 149.6L1577.5 144.8L1527.9 145.2L1493.1 153.3L1464.9 158.5L1421.6 201.7L1390.6 239.4L1359.4 275.8L1333.7 298.1L1305.1 317.0L1266.0 349.9L1229.5 379.3L1199.9 394.9L1164.5 400.4L1131.6 392.2L1099.8 374.9L1073.9 347.4L1057.9 310.3L1048.2 266.8L1052.3 237.3L1059.6 202.2L1080.3 180.9L1108.4 171.4L1150.7 177.5L1197.4 194.4L1232.6 216.5L1255.2 237.2L1272.0 257.3L1299.6 301.1L1324.0 343.1L1353.1 385.7L1396.3 431.8L1430.2 465.4L1473.1 486.2L1510.9 486.0L1564.7 461.3L1615.3 427.9L1661.9 374.9L1694.6 311.1L1712.8 253.4L1719.3 207.5L1706.5 173.6L1694.3 152.5L1665.4 123.5L1628.8 110.0L1596.1 102.2L1553.9 99.3L1509.7 107.7L1475.2 114.7L1433.0 151.8L1395.6 189.8L1356.2 224.5L1318.5 252.7L1283.5 274.4L1254.4 299.3L1218.5 319.8L1192.6 336.9L1155.7 340.7L1127.3 332.1L1097.5 324.0L1077.1 303.0L1063.0 278.4L1057.2 250.7L1062.0 231.5L1072.2 212.7L1090.4 197.0L1117.0 192.0L1158.2 196.1L1198.9 209.8L1230.1 228.2L1252.7 242.4L1268.1 260.8L1293.5 302.8L1323.2 349.3L1351.8 394.9L1393.9 443.1L1432.4 483.9L1477.1 501.3L1518.0 499.2L1570.3 475.0L1625.9 435.7L1673.2 380.4L1707.4 316.9L1730.0 254.2L1734.8 203.0L1727.3 158.0L1709.2 134.7L1681.2 105.5L1643.1 89.8L1608.0 81.3L1566.1 76.4L1519.1 85.4L1478.1 92.1L1436.3 126.1L1398.7 166.4L1355.4 203.5L1314.2 238.0L1276.8 262.0L1246.3 281.8L1215.6 291.8L1188.1 298.8L1153.2 302.6L1123.4 299.7L1096.3 286.6L1076.6 276.9L1065.4 258.3L1059.2 244.3L1067.6 230.1L1077.2 218.4L1091.5 207.6L1124.0 202.8L1158.7 201.3L1198.2 210.4L1231.9 223.5L1256.3 238.1L1274.9 256.8L1300.3 297.5L1326.1 335.6L1355.3 377.7L1395.7 424.4L1432.2 460.9L1472.1 478.3L1505.7 480.2L1560.5 457.8L1614.3 422.1L1655.9 372.9L1688.1 307.7L1705.9 251.5L1707.7 213.3L1700.4 179.8L1686.9 158.5L1656.4 132.1L1624.5 118.8L1593.0 110.8L1549.6 108.8L1505.5 115.2L1471.1 124.6L1432.9 162.0L1392.4 201.6L1358.3 238.3L1325.2 267.5L1292.0 290.9L1259.3 325.2L1227.6 361.6L1197.2 387.8L1163.7 393.2L1129.8 385.1L1099.7 367.5L1074.6 340.0L1054.8 305.5L1048.0 265.1L1054.3 235.7L1061.3 204.2L1082.7 181.5L1112.6 173.5L1153.7 184.7L1196.3 204.8L1229.6 225.8L1249.0 246.9L1261.6 261.2L1288.4 310.3L1320.3 358.1L1350.4 407.3L1393.2 457.3L1432.1 502.0L1484.0 515.3L1524.7 509.6L1577.1 483.5L1634.4 443.1L1681.2 384.2L1721.7 318.2L1745.7 254.4L1750.6 193.7L1741.0 146.6L1726.8 120.5L1695.8 86.7L1656.6 67.2L1615.9 57.1L1577.9 55.3L1526.6 60.5L1482.6 70.9L1443.4 103.6L1400.0 141.0L1356.6 180.9L1305.6 211.1L1265.3 241.4L1242.0 257.4L1212.2 272.2L1186.4 286.7L1153.2 290.3L1121.9 285.4L1095.7 278.1L1074.7 265.6L1067.4 253.1L1062.8 239.3L1068.2 230.6L1079.0 217.1L1098.0 213.0L1123.2 208.1L1161.1 206.6L1198.5 214.5L1232.1 227.0L1256.0 238.5L1276.6 256.6L1301.9 298.2L1325.6 334.5L1357.5 378.1L1395.5 421.5L1432.5 457.3L1471.6 477.6L1506.5 475.1L1558.9 454.9L1608.6 418.0L1653.9 371.1L1686.8 308.1L1702.4 249.8L1705.0 212.3L1695.8 183.3L1682.0 161.8L1653.8 139.8L1623.5 120.6L1593.3 116.3L1545.9 113.8L1503.7 121.9L1470.9 131.3L1429.5 167.8L1393.2 208.4L1359.2 243.0L1325.4 269.9L1292.0 289.6L1260.0 314.5L1223.5 334.2L1193.1 344.7L1159.0 348.1L1125.6 342.6L1098.8 327.6L1076.7 309.6L1060.9 283.1L1054.9 254.7L1061.0 232.1L1069.4 212.1L1087.7 193.7L1116.1 189.1L1157.6 192.8L1199.6 205.2L1230.9 223.4L1254.8 240.8L1269.1 262.7L1296.2 302.5L1324.5 344.9L1353.6 385.5L1393.5 436.4L1431.2 473.8L1473.3 493.4L1514.5 488.5L1565.3 466.0L1617.8 428.9L1665.2 377.2L1700.6 311.8L1719.1 252.8L1720.7 204.8L1715.2 167.3L1697.3 146.4L1667.2 119.1L1635.6 101.3L1600.9 92.6L1555.5 91.4L1510.7 100.5L1476.7 107.5L1434.4 144.8L1397.3 181.9L1358.0 217.8L1318.3 246.5L1281.0 271.3L1249.9 288.7L1216.1 307.4L1191.0 322.4L1155.6 320.9L1124.2 317.8L1095.6 307.3L1075.4 292.5L1064.4 270.4L1059.0 246.6L1063.6 229.1L1075.9 212.6L1091.0 203.8L1121.6 197.0L1160.4 201.6L1197.4 216.1L1229.3 230.2L1250.6 246.1" stroke="#ff6200" stroke-dasharray="8.5 9.5"/>
</g>
<path d="M1046.8,13.6H1759.3V523.2H1046.8ZM1065.20,523.2v-7.7M1065.20,13.6v7.7M1338.85,523.2v-7.7M1338.85,13.6v7.7M1612.50,523.2v-7.7M1612.50,13.6v7.7M1046.8,496.20h7.7M1759.3,496.20h-7.7M1046.8,413.78h7.7M1759.3,413.78h-7.7M1046.8,331.36h7.7M1759.3,331.36h-7.7M1046.8,248.94h7.7M1759.3,248.94h-7.7M1046.8,166.52h7.7M1759.3,166.52h-7.7M1046.8,84.10h7.7M1759.3,84.10h-7.7" fill="none" stroke="#262626" stroke-width="1.6"/>
<text x="1011.21" y="590.00" font-size="59" fill="#262626">-100</text>
<text x="1324.10" y="590.00" font-size="59" fill="#262626">0</text>
<text x="1566.78" y="590.00" font-size="59" fill="#262626">100</text>
<text x="973.86" y="516.40" font-size="59" fill="#262626">18</text>
<text x="973.86" y="433.98" font-size="59" fill="#262626">20</text>
<text x="975.04" y="351.56" font-size="59" fill="#262626">22</text>
<text x="972.68" y="269.14" font-size="59" fill="#262626">24</text>
<text x="973.27" y="186.72" font-size="59" fill="#262626">26</text>
<text x="973.86" y="104.30" font-size="59" fill="#262626">28</text>
<text x="1355.35" y="624.15" font-size="65" fill="#262626">x(t)</text>
<text x="964.15" y="314.75" font-size="65" fill="#262626" transform="rotate(-90 964.15 314.75)">z(t)</text>
<text x="1316.33" y="684.20" font-size="29" fill="#262626">(b)</text>
<rect x="1624.6" y="21.6" width="126.90" height="81.80" fill="#fff" stroke="#262626" stroke-width="1.4"/>
<path d="M1627.6 42.8H1656.5" stroke="#0000ff" stroke-width="2.9"/>
<path d="M1627.6 82.3H1656.5" stroke="#ff6200" stroke-width="2.9" stroke-dasharray="8.3 8"/>
<text x="1658.74" y="55.60" font-size="35.3" fill="#000">PLUC</text>
<text x="1658.74" y="95.20" font-size="35.3" fill="#000">RC</text>
<clipPath id="cc"><rect x="127.3" y="735.2" width="718.0" height="590.3"/></clipPath>
<g clip-path="url(#cc)"><g fill="none" stroke="#0000ff" stroke-width="1.35"><circle cx="128.4" cy="736.4" r="3.25"/><circle cx="135.2" cy="736.4" r="3.25"/><circle cx="151.5" cy="738.4" r="3.25"/><circle cx="144.0" cy="742.5" r="3.25"/><circle cx="158.3" cy="746.6" r="3.25"/><circle cx="163.5" cy="748.7" r="3.25"/><circle cx="170.6" cy="742.5" r="3.25"/><circle cx="170.6" cy="747.3" r="3.25"/><circle cx="176.7" cy="743.9" r="3.25"/><circle cx="178.1" cy="746.6" r="3.25"/><circle cx="181.1" cy="752.1" r="3.25"/><circle cx="188.0" cy="746.6" r="3.25"/><circle cx="198.8" cy="748.7" r="3.25"/><circle cx="211.7" cy="751.1" r="3.25"/><circle cx="223.7" cy="754.4" r="3.25"/><circle cx="235.7" cy="757.9" r="3.25"/><circle cx="253.7" cy="760.6" r="3.25"/><circle cx="207.4" cy="760.9" r="3.25"/><circle cx="210.4" cy="761.6" r="3.25"/><circle cx="225.1" cy="765.0" r="3.25"/><circle cx="228.5" cy="765.7" r="3.25"/><circle cx="235.3" cy="769.1" r="3.25"/><circle cx="240.0" cy="770.5" r="3.25"/><circle cx="243.5" cy="769.8" r="3.25"/><circle cx="259.8" cy="776.3" r="3.25"/><circle cx="265.9" cy="777.0" r="3.25"/><circle cx="276.8" cy="765.7" r="3.25"/><circle cx="279.5" cy="767.7" r="3.25"/><circle cx="292.9" cy="769.8" r="3.25"/><circle cx="303.4" cy="772.5" r="3.25"/><circle cx="319.0" cy="776.6" r="3.25"/><circle cx="322.7" cy="776.9" r="3.25"/><circle cx="329.9" cy="779.3" r="3.25"/><circle cx="334.7" cy="779.3" r="3.25"/><circle cx="338.8" cy="780.7" r="3.25"/><circle cx="349.0" cy="784.3" r="3.25"/><circle cx="285.7" cy="783.1" r="3.25"/><circle cx="290.4" cy="784.5" r="3.25"/><circle cx="342.2" cy="801.1" r="3.25"/><circle cx="376.3" cy="791.3" r="3.25"/><circle cx="383.1" cy="792.0" r="3.25"/><circle cx="396.3" cy="795.7" r="3.25"/><circle cx="419.4" cy="802.5" r="3.25"/><circle cx="432.8" cy="805.6" r="3.25"/><circle cx="451.7" cy="810.9" r="3.25"/><circle cx="373.8" cy="811.3" r="3.25"/><circle cx="383.1" cy="814.7" r="3.25"/><circle cx="393.2" cy="818.8" r="3.25"/><circle cx="400.4" cy="821.3" r="3.25"/><circle cx="430.1" cy="832.0" r="3.25"/><circle cx="440.5" cy="835.2" r="3.25"/><circle cx="443.3" cy="836.5" r="3.25"/><circle cx="483.0" cy="820.2" r="3.25"/><circle cx="492.0" cy="823.2" r="3.25"/><circle cx="505.9" cy="827.9" r="3.25"/><circle cx="518.2" cy="831.7" r="3.25"/><circle cx="521.6" cy="832.2" r="3.25"/><circle cx="532.5" cy="835.2" r="3.25"/><circle cx="537.7" cy="837.6" r="3.25"/><circle cx="553.3" cy="842.9" r="3.25"/><circle cx="561.5" cy="845.0" r="3.25"/><circle cx="566.5" cy="846.5" r="3.25"/><circle cx="569.9" cy="848.5" r="3.25"/><circle cx="575.1" cy="849.5" r="3.25"/><circle cx="517.5" cy="845.8" r="3.25"/><circle cx="537.5" cy="847.7" r="3.25"/><circle cx="484.1" cy="853.1" r="3.25"/><circle cx="492.6" cy="856.7" r="3.25"/><circle cx="575.7" cy="858.6" r="3.25"/><circle cx="592.8" cy="855.9" r="3.25"/><circle cx="604.7" cy="861.7" r="3.25"/><circle cx="572.7" cy="866.8" r="3.25"/><circle cx="576.1" cy="871.7" r="3.25"/><circle cx="561.8" cy="870.6" r="3.25"/><circle cx="592.4" cy="869.6" r="3.25"/><circle cx="599.5" cy="871.9" r="3.25"/><circle cx="527.7" cy="872.3" r="3.25"/><circle cx="545.7" cy="880.8" r="3.25"/><circle cx="559.0" cy="887.9" r="3.25"/><circle cx="568.3" cy="893.0" r="3.25"/><circle cx="576.1" cy="897.8" r="3.25"/><circle cx="594.7" cy="883.9" r="3.25"/><circle cx="616.5" cy="872.6" r="3.25"/><circle cx="617.9" cy="877.4" r="3.25"/><circle cx="625.4" cy="880.8" r="3.25"/><circle cx="631.2" cy="869.9" r="3.25"/><circle cx="635.6" cy="871.9" r="3.25"/><circle cx="639.7" cy="873.3" r="3.25"/><circle cx="642.7" cy="875.3" r="3.25"/><circle cx="646.1" cy="877.0" r="3.25"/><circle cx="640.4" cy="881.5" r="3.25"/><circle cx="635.3" cy="884.2" r="3.25"/><circle cx="643.5" cy="887.6" r="3.25"/><circle cx="656.0" cy="880.8" r="3.25"/><circle cx="661.5" cy="882.8" r="3.25"/><circle cx="665.6" cy="884.2" r="3.25"/><circle cx="669.0" cy="885.5" r="3.25"/><circle cx="662.2" cy="891.0" r="3.25"/><circle cx="666.9" cy="893.0" r="3.25"/><circle cx="672.4" cy="895.1" r="3.25"/><circle cx="677.8" cy="897.1" r="3.25"/><circle cx="677.8" cy="889.6" r="3.25"/><circle cx="681.6" cy="891.3" r="3.25"/><circle cx="616.8" cy="898.1" r="3.25"/><circle cx="624.7" cy="903.3" r="3.25"/><circle cx="628.5" cy="905.7" r="3.25"/><circle cx="689.8" cy="903.3" r="3.25"/><circle cx="691.4" cy="907.7" r="3.25"/><circle cx="698.9" cy="900.1" r="3.25"/><circle cx="707.4" cy="903.7" r="3.25"/><circle cx="711.2" cy="906.7" r="3.25"/><circle cx="707.4" cy="915.1" r="3.25"/><circle cx="714.9" cy="914.1" r="3.25"/><circle cx="724.1" cy="911.4" r="3.25"/><circle cx="721.1" cy="917.6" r="3.25"/><circle cx="728.2" cy="916.5" r="3.25"/><circle cx="727.8" cy="925.7" r="3.25"/><circle cx="733.0" cy="923.0" r="3.25"/><circle cx="737.1" cy="923.0" r="3.25"/><circle cx="741.2" cy="923.0" r="3.25"/><circle cx="753.7" cy="928.5" r="3.25"/><circle cx="760.2" cy="931.9" r="3.25"/><circle cx="614.5" cy="920.7" r="3.25"/><circle cx="627.2" cy="929.4" r="3.25"/><circle cx="641.7" cy="919.6" r="3.25"/><circle cx="649.2" cy="921.6" r="3.25"/><circle cx="651.9" cy="923.7" r="3.25"/><circle cx="656.0" cy="927.1" r="3.25"/><circle cx="653.3" cy="929.1" r="3.25"/><circle cx="667.9" cy="936.8" r="3.25"/><circle cx="636.3" cy="938.2" r="3.25"/><circle cx="678.5" cy="946.8" r="3.25"/><circle cx="763.6" cy="940.9" r="3.25"/><circle cx="771.8" cy="943.6" r="3.25"/><circle cx="775.9" cy="942.7" r="3.25"/><circle cx="777.3" cy="956.6" r="3.25"/><circle cx="786.8" cy="956.9" r="3.25"/><circle cx="790.9" cy="957.3" r="3.25"/><circle cx="795.6" cy="957.3" r="3.25"/><circle cx="785.8" cy="963.4" r="3.25"/><circle cx="800.4" cy="962.0" r="3.25"/><circle cx="803.8" cy="964.8" r="3.25"/><circle cx="808.6" cy="968.8" r="3.25"/><circle cx="795.0" cy="970.9" r="3.25"/><circle cx="799.0" cy="969.5" r="3.25"/><circle cx="815.1" cy="975.7" r="3.25"/><circle cx="806.1" cy="982.2" r="3.25"/><circle cx="660.8" cy="961.4" r="3.25"/><circle cx="664.9" cy="965.7" r="3.25"/><circle cx="669.0" cy="972.2" r="3.25"/><circle cx="672.1" cy="976.3" r="3.25"/><circle cx="695.3" cy="967.1" r="3.25"/><circle cx="679.2" cy="989.3" r="3.25"/><circle cx="681.6" cy="996.1" r="3.25"/><circle cx="708.9" cy="993.0" r="3.25"/><circle cx="823.6" cy="988.2" r="3.25"/><circle cx="829.7" cy="992.0" r="3.25"/><circle cx="818.1" cy="996.4" r="3.25"/><circle cx="834.5" cy="1001.5" r="3.25"/><circle cx="837.2" cy="1003.6" r="3.25"/><circle cx="832.0" cy="1004.9" r="3.25"/><circle cx="841.3" cy="1014.1" r="3.25"/><circle cx="832.4" cy="1025.4" r="3.25"/><circle cx="844.7" cy="1025.4" r="3.25"/><circle cx="833.8" cy="1032.6" r="3.25"/><circle cx="844.7" cy="1032.9" r="3.25"/><circle cx="686.0" cy="1021.6" r="3.25"/><circle cx="686.0" cy="1028.1" r="3.25"/><circle cx="684.9" cy="1034.6" r="3.25"/><circle cx="711.2" cy="1033.8" r="3.25"/><circle cx="680.1" cy="1049.9" r="3.25"/><circle cx="843.3" cy="1059.0" r="3.25"/><circle cx="830.4" cy="1066.9" r="3.25"/><circle cx="836.5" cy="1075.1" r="3.25"/><circle cx="826.0" cy="1077.1" r="3.25"/><circle cx="831.5" cy="1083.9" r="3.25"/><circle cx="664.9" cy="1075.4" r="3.25"/><circle cx="681.0" cy="1085.0" r="3.25"/><circle cx="647.9" cy="1093.9" r="3.25"/><circle cx="640.4" cy="1099.6" r="3.25"/><circle cx="638.1" cy="1102.0" r="3.25"/><circle cx="809.5" cy="1100.3" r="3.25"/><circle cx="814.7" cy="1104.4" r="3.25"/><circle cx="803.1" cy="1106.4" r="3.25"/><circle cx="612.4" cy="1121.9" r="3.25"/><circle cx="618.6" cy="1118.2" r="3.25"/><circle cx="621.7" cy="1131.1" r="3.25"/><circle cx="610.8" cy="1137.5" r="3.25"/><circle cx="795.0" cy="1114.8" r="3.25"/><circle cx="804.1" cy="1114.5" r="3.25"/><circle cx="796.0" cy="1121.3" r="3.25"/><circle cx="786.8" cy="1122.7" r="3.25"/><circle cx="765.0" cy="1143.8" r="3.25"/><circle cx="753.4" cy="1146.1" r="3.25"/><circle cx="749.3" cy="1148.8" r="3.25"/><circle cx="751.6" cy="1152.2" r="3.25"/><circle cx="741.8" cy="1157.0" r="3.25"/><circle cx="728.2" cy="1165.2" r="3.25"/><circle cx="722.5" cy="1168.3" r="3.25"/><circle cx="698.0" cy="1180.9" r="3.25"/><circle cx="702.6" cy="1178.5" r="3.25"/><circle cx="678.8" cy="1189.7" r="3.25"/><circle cx="668.7" cy="1191.5" r="3.25"/><circle cx="660.4" cy="1195.4" r="3.25"/><circle cx="653.7" cy="1200.6" r="3.25"/><circle cx="647.9" cy="1202.6" r="3.25"/><circle cx="620.2" cy="1212.2" r="3.25"/><circle cx="609.0" cy="1216.7" r="3.25"/><circle cx="600.9" cy="1130.0" r="3.25"/><circle cx="588.3" cy="1137.7" r="3.25"/><circle cx="563.5" cy="1151.2" r="3.25"/><circle cx="532.1" cy="1167.0" r="3.25"/><circle cx="482.1" cy="1189.0" r="3.25"/><circle cx="420.4" cy="1212.9" r="3.25"/><circle cx="599.0" cy="1222.0" r="3.25"/><circle cx="570.9" cy="1230.8" r="3.25"/><circle cx="565.2" cy="1232.6" r="3.25"/><circle cx="557.4" cy="1237.0" r="3.25"/><circle cx="552.5" cy="1237.1" r="3.25"/><circle cx="536.3" cy="1242.8" r="3.25"/><circle cx="527.7" cy="1246.2" r="3.25"/><circle cx="497.3" cy="1256.2" r="3.25"/><circle cx="489.6" cy="1257.4" r="3.25"/><circle cx="481.1" cy="1260.1" r="3.25"/><circle cx="462.8" cy="1266.7" r="3.25"/><circle cx="432.0" cy="1275.5" r="3.25"/><circle cx="409.0" cy="1281.6" r="3.25"/><circle cx="400.8" cy="1284.0" r="3.25"/><circle cx="380.6" cy="1289.1" r="3.25"/><circle cx="375.2" cy="1290.1" r="3.25"/><circle cx="356.2" cy="1234.7" r="3.25"/><circle cx="364.3" cy="1232.2" r="3.25"/><circle cx="365.7" cy="1293.7" r="3.25"/><circle cx="356.3" cy="1295.9" r="3.25"/><circle cx="339.5" cy="1300.4" r="3.25"/><circle cx="320.1" cy="1305.5" r="3.25"/><circle cx="293.5" cy="1312.1" r="3.25"/><circle cx="264.9" cy="1319.8" r="3.25"/><circle cx="238.4" cy="1326.0" r="3.25"/><circle cx="241.4" cy="1325.4" r="3.25"/></g>
<g fill="#ff6200"><circle cx="128.4" cy="736.4" r="2.85"/><circle cx="135.2" cy="736.4" r="2.85"/><circle cx="152.9" cy="739.1" r="2.85"/><circle cx="144.0" cy="742.5" r="2.85"/><circle cx="158.3" cy="746.6" r="2.85"/><circle cx="163.5" cy="748.7" r="2.85"/><circle cx="170.6" cy="742.5" r="2.85"/><circle cx="170.6" cy="747.3" r="2.85"/><circle cx="176.7" cy="743.9" r="2.85"/><circle cx="178.1" cy="746.6" r="2.85"/><circle cx="188.0" cy="746.6" r="2.85"/><circle cx="188.0" cy="752.1" r="2.85"/><circle cx="198.8" cy="748.7" r="2.85"/><circle cx="211.7" cy="751.1" r="2.85"/><circle cx="223.7" cy="754.4" r="2.85"/><circle cx="235.7" cy="757.9" r="2.85"/><circle cx="253.7" cy="760.6" r="2.85"/><circle cx="262.9" cy="747.3" r="2.85"/><circle cx="207.4" cy="760.9" r="2.85"/><circle cx="210.4" cy="761.6" r="2.85"/><circle cx="225.1" cy="765.0" r="2.85"/><circle cx="228.5" cy="765.7" r="2.85"/><circle cx="235.3" cy="769.1" r="2.85"/><circle cx="240.0" cy="770.5" r="2.85"/><circle cx="243.5" cy="769.8" r="2.85"/><circle cx="259.8" cy="776.3" r="2.85"/><circle cx="265.9" cy="777.0" r="2.85"/><circle cx="276.8" cy="765.7" r="2.85"/><circle cx="279.5" cy="767.7" r="2.85"/><circle cx="292.9" cy="769.8" r="2.85"/><circle cx="303.4" cy="772.5" r="2.85"/><circle cx="319.0" cy="776.6" r="2.85"/><circle cx="329.9" cy="779.3" r="2.85"/><circle cx="334.7" cy="779.3" r="2.85"/><circle cx="338.4" cy="776.6" r="2.85"/><circle cx="338.8" cy="780.7" r="2.85"/><circle cx="349.0" cy="784.3" r="2.85"/><circle cx="285.7" cy="783.1" r="2.85"/><circle cx="290.4" cy="784.5" r="2.85"/><circle cx="342.2" cy="801.1" r="2.85"/><circle cx="376.3" cy="791.3" r="2.85"/><circle cx="383.1" cy="792.0" r="2.85"/><circle cx="396.3" cy="795.7" r="2.85"/><circle cx="419.4" cy="802.5" r="2.85"/><circle cx="432.8" cy="805.6" r="2.85"/><circle cx="451.7" cy="810.9" r="2.85"/><circle cx="373.8" cy="811.3" r="2.85"/><circle cx="383.1" cy="814.7" r="2.85"/><circle cx="393.2" cy="818.8" r="2.85"/><circle cx="400.4" cy="821.3" r="2.85"/><circle cx="440.5" cy="831.5" r="2.85"/><circle cx="440.5" cy="835.2" r="2.85"/><circle cx="443.3" cy="836.5" r="2.85"/><circle cx="483.0" cy="820.2" r="2.85"/><circle cx="492.0" cy="823.2" r="2.85"/><circle cx="508.7" cy="827.9" r="2.85"/><circle cx="518.2" cy="831.7" r="2.85"/><circle cx="521.6" cy="832.2" r="2.85"/><circle cx="532.5" cy="835.2" r="2.85"/><circle cx="537.7" cy="837.6" r="2.85"/><circle cx="553.3" cy="842.9" r="2.85"/><circle cx="561.5" cy="845.0" r="2.85"/><circle cx="566.5" cy="846.5" r="2.85"/><circle cx="569.9" cy="848.5" r="2.85"/><circle cx="575.1" cy="849.5" r="2.85"/><circle cx="600.9" cy="849.7" r="2.85"/><circle cx="517.5" cy="845.8" r="2.85"/><circle cx="537.5" cy="847.7" r="2.85"/><circle cx="484.1" cy="853.1" r="2.85"/><circle cx="492.6" cy="856.7" r="2.85"/><circle cx="575.7" cy="858.6" r="2.85"/><circle cx="592.8" cy="855.9" r="2.85"/><circle cx="604.7" cy="861.7" r="2.85"/><circle cx="572.7" cy="866.8" r="2.85"/><circle cx="576.1" cy="871.7" r="2.85"/><circle cx="561.8" cy="870.6" r="2.85"/><circle cx="592.4" cy="869.6" r="2.85"/><circle cx="599.5" cy="871.9" r="2.85"/><circle cx="527.7" cy="872.3" r="2.85"/><circle cx="545.7" cy="880.8" r="2.85"/><circle cx="559.0" cy="887.9" r="2.85"/><circle cx="568.3" cy="893.0" r="2.85"/><circle cx="576.1" cy="897.8" r="2.85"/><circle cx="594.7" cy="883.9" r="2.85"/><circle cx="616.5" cy="872.6" r="2.85"/><circle cx="617.9" cy="877.4" r="2.85"/><circle cx="625.4" cy="880.8" r="2.85"/><circle cx="631.2" cy="869.9" r="2.85"/><circle cx="635.6" cy="871.9" r="2.85"/><circle cx="639.7" cy="873.3" r="2.85"/><circle cx="642.7" cy="875.3" r="2.85"/><circle cx="646.1" cy="877.0" r="2.85"/><circle cx="635.3" cy="884.2" r="2.85"/><circle cx="643.5" cy="887.6" r="2.85"/><circle cx="656.0" cy="880.8" r="2.85"/><circle cx="661.5" cy="882.8" r="2.85"/><circle cx="665.6" cy="884.2" r="2.85"/><circle cx="669.0" cy="885.5" r="2.85"/><circle cx="662.2" cy="891.0" r="2.85"/><circle cx="666.9" cy="893.0" r="2.85"/><circle cx="672.4" cy="895.1" r="2.85"/><circle cx="677.8" cy="897.1" r="2.85"/><circle cx="677.8" cy="889.6" r="2.85"/><circle cx="681.6" cy="891.3" r="2.85"/><circle cx="679.9" cy="881.5" r="2.85"/><circle cx="620.2" cy="898.1" r="2.85"/><circle cx="624.7" cy="903.3" r="2.85"/><circle cx="628.5" cy="905.7" r="2.85"/><circle cx="689.8" cy="903.3" r="2.85"/><circle cx="691.4" cy="907.7" r="2.85"/><circle cx="698.9" cy="900.1" r="2.85"/><circle cx="707.4" cy="903.7" r="2.85"/><circle cx="711.2" cy="906.7" r="2.85"/><circle cx="707.4" cy="915.1" r="2.85"/><circle cx="714.9" cy="914.1" r="2.85"/><circle cx="724.1" cy="911.4" r="2.85"/><circle cx="721.1" cy="917.6" r="2.85"/><circle cx="728.2" cy="916.5" r="2.85"/><circle cx="737.8" cy="904.3" r="2.85"/><circle cx="727.8" cy="925.7" r="2.85"/><circle cx="737.1" cy="923.0" r="2.85"/><circle cx="741.2" cy="923.0" r="2.85"/><circle cx="753.7" cy="928.5" r="2.85"/><circle cx="760.2" cy="931.9" r="2.85"/><circle cx="614.5" cy="920.7" r="2.85"/><circle cx="627.2" cy="929.4" r="2.85"/><circle cx="641.7" cy="919.6" r="2.85"/><circle cx="649.2" cy="921.6" r="2.85"/><circle cx="651.9" cy="923.7" r="2.85"/><circle cx="656.0" cy="927.1" r="2.85"/><circle cx="653.3" cy="929.1" r="2.85"/><circle cx="717.1" cy="936.8" r="2.85"/><circle cx="636.3" cy="938.2" r="2.85"/><circle cx="678.5" cy="946.8" r="2.85"/><circle cx="763.6" cy="940.9" r="2.85"/><circle cx="771.8" cy="943.6" r="2.85"/><circle cx="775.9" cy="942.7" r="2.85"/><circle cx="777.3" cy="956.6" r="2.85"/><circle cx="786.8" cy="956.9" r="2.85"/><circle cx="790.9" cy="957.3" r="2.85"/><circle cx="795.6" cy="957.3" r="2.85"/><circle cx="785.8" cy="963.4" r="2.85"/><circle cx="800.4" cy="962.0" r="2.85"/><circle cx="803.8" cy="964.8" r="2.85"/><circle cx="808.6" cy="968.8" r="2.85"/><circle cx="795.0" cy="970.9" r="2.85"/><circle cx="799.0" cy="969.5" r="2.85"/><circle cx="815.1" cy="975.7" r="2.85"/><circle cx="806.1" cy="982.2" r="2.85"/><circle cx="815.8" cy="957.3" r="2.85"/><circle cx="660.8" cy="961.4" r="2.85"/><circle cx="664.9" cy="965.7" r="2.85"/><circle cx="669.0" cy="972.2" r="2.85"/><circle cx="672.1" cy="976.3" r="2.85"/><circle cx="695.3" cy="967.1" r="2.85"/><circle cx="679.2" cy="989.3" r="2.85"/><circle cx="681.6" cy="996.1" r="2.85"/><circle cx="708.9" cy="993.0" r="2.85"/><circle cx="823.6" cy="988.2" r="2.85"/><circle cx="829.7" cy="992.0" r="2.85"/><circle cx="818.1" cy="996.4" r="2.85"/><circle cx="834.5" cy="1001.5" r="2.85"/><circle cx="837.2" cy="1003.6" r="2.85"/><circle cx="832.0" cy="1004.9" r="2.85"/><circle cx="842.6" cy="1014.1" r="2.85"/><circle cx="832.4" cy="1025.4" r="2.85"/><circle cx="844.7" cy="1025.4" r="2.85"/><circle cx="833.8" cy="1032.6" r="2.85"/><circle cx="844.7" cy="1032.9" r="2.85"/><circle cx="686.0" cy="1021.6" r="2.85"/><circle cx="686.0" cy="1028.1" r="2.85"/><circle cx="684.9" cy="1034.6" r="2.85"/><circle cx="711.2" cy="1033.8" r="2.85"/><circle cx="680.1" cy="1049.9" r="2.85"/><circle cx="843.3" cy="1059.0" r="2.85"/><circle cx="830.4" cy="1066.9" r="2.85"/><circle cx="836.5" cy="1075.1" r="2.85"/><circle cx="833.1" cy="1077.1" r="2.85"/><circle cx="831.5" cy="1083.9" r="2.85"/><circle cx="664.9" cy="1075.4" r="2.85"/><circle cx="681.0" cy="1085.0" r="2.85"/><circle cx="652.2" cy="1093.9" r="2.85"/><circle cx="640.4" cy="1099.6" r="2.85"/><circle cx="638.1" cy="1102.0" r="2.85"/><circle cx="809.5" cy="1100.3" r="2.85"/><circle cx="814.7" cy="1104.4" r="2.85"/><circle cx="803.1" cy="1106.4" r="2.85"/><circle cx="612.4" cy="1121.9" r="2.85"/><circle cx="618.6" cy="1118.2" r="2.85"/><circle cx="621.7" cy="1131.1" r="2.85"/><circle cx="610.8" cy="1137.5" r="2.85"/><circle cx="662.2" cy="1130.0" r="2.85"/><circle cx="795.0" cy="1114.8" r="2.85"/><circle cx="804.1" cy="1114.5" r="2.85"/><circle cx="796.0" cy="1121.3" r="2.85"/><circle cx="786.8" cy="1122.7" r="2.85"/><circle cx="765.0" cy="1143.8" r="2.85"/><circle cx="753.4" cy="1146.1" r="2.85"/><circle cx="749.3" cy="1148.8" r="2.85"/><circle cx="751.6" cy="1152.2" r="2.85"/><circle cx="741.8" cy="1157.0" r="2.85"/><circle cx="722.5" cy="1168.3" r="2.85"/><circle cx="741.2" cy="1165.9" r="2.85"/><circle cx="698.0" cy="1180.9" r="2.85"/><circle cx="702.6" cy="1178.5" r="2.85"/><circle cx="678.8" cy="1189.7" r="2.85"/><circle cx="668.7" cy="1191.5" r="2.85"/><circle cx="660.4" cy="1195.4" r="2.85"/><circle cx="653.7" cy="1200.6" r="2.85"/><circle cx="647.9" cy="1202.6" r="2.85"/><circle cx="620.2" cy="1212.2" r="2.85"/><circle cx="609.0" cy="1216.7" r="2.85"/><circle cx="588.3" cy="1137.7" r="2.85"/><circle cx="563.5" cy="1151.2" r="2.85"/><circle cx="532.1" cy="1167.0" r="2.85"/><circle cx="482.1" cy="1189.0" r="2.85"/><circle cx="420.4" cy="1212.9" r="2.85"/><circle cx="599.0" cy="1222.0" r="2.85"/><circle cx="570.9" cy="1230.8" r="2.85"/><circle cx="565.2" cy="1232.6" r="2.85"/><circle cx="557.4" cy="1237.0" r="2.85"/><circle cx="552.5" cy="1237.1" r="2.85"/><circle cx="536.3" cy="1242.8" r="2.85"/><circle cx="527.7" cy="1246.2" r="2.85"/><circle cx="497.3" cy="1256.2" r="2.85"/><circle cx="489.6" cy="1257.4" r="2.85"/><circle cx="481.1" cy="1260.1" r="2.85"/><circle cx="462.8" cy="1266.7" r="2.85"/><circle cx="432.0" cy="1275.5" r="2.85"/><circle cx="414.7" cy="1281.6" r="2.85"/><circle cx="400.8" cy="1284.0" r="2.85"/><circle cx="380.6" cy="1289.1" r="2.85"/><circle cx="375.2" cy="1290.1" r="2.85"/><circle cx="356.2" cy="1234.7" r="2.85"/><circle cx="364.3" cy="1232.2" r="2.85"/><circle cx="356.3" cy="1295.9" r="2.85"/><circle cx="339.5" cy="1300.4" r="2.85"/><circle cx="320.1" cy="1305.5" r="2.85"/><circle cx="293.5" cy="1312.1" r="2.85"/><circle cx="264.9" cy="1319.8" r="2.85"/><circle cx="238.4" cy="1326.0" r="2.85"/><circle cx="241.4" cy="1325.4" r="2.85"/><circle cx="441.7" cy="1293.9" r="2.85"/></g></g>
<path d="M127.3,735.2H845.3V1325.5H127.3ZM204.00,1325.5v-7.7M204.00,735.2v7.7M486.20,1325.5v-7.7M486.20,735.2v7.7M768.40,1325.5v-7.7M768.40,735.2v7.7M127.3,875.30h7.7M845.3,875.30h-7.7M127.3,1030.20h7.7M845.3,1030.20h-7.7M127.3,1185.10h7.7M845.3,1185.10h-7.7" fill="none" stroke="#262626" stroke-width="1.6"/>
<text x="178.49" y="1396.50" font-size="63" fill="#262626">-1</text>
<text x="470.45" y="1396.50" font-size="63" fill="#262626">0</text>
<text x="751.70" y="1396.50" font-size="63" fill="#262626">1</text>
<text x="35.93" y="897.60" font-size="63" fill="#262626">0.2</text>
<text x="81.92" y="1052.50" font-size="63" fill="#262626">0</text>
<text x="14.51" y="1207.40" font-size="63" fill="#262626">-0.2</text>
<text x="505.42" y="1421.20" font-size="68" fill="#262626">x(n)</text>
<text x="47.20" y="1080.38" font-size="68" fill="#262626" transform="rotate(-90 47.20 1080.38)">y(n)</text>
<text x="403.50" y="1474.70" font-size="29" fill="#262626">(c)</text>
<rect x="704.5" y="735.7" width="140.50" height="87.30" fill="#fff" stroke="#262626" stroke-width="1.4"/>
<circle cx="723.3" cy="759.1" r="3.55" fill="none" stroke="#0000ff" stroke-width="1.5"/>
<circle cx="723.3" cy="800.8" r="3.2" fill="#ff6200"/>
<text x="740.96" y="772.90" font-size="38" fill="#000">Henon</text>
<text x="740.96" y="814.50" font-size="38" fill="#000">RC</text>
<clipPath id="cd"><rect x="1028.2" y="763.4" width="730.3" height="578.7"/></clipPath>
<g clip-path="url(#cd)"><g fill="none" stroke="#0000ff" stroke-width="3.4"><circle cx="1250.0" cy="924.4" r="2.85"/><circle cx="1244.2" cy="928.5" r="2.85"/><circle cx="1248.0" cy="933.7" r="2.85"/><circle cx="1220.3" cy="947.3" r="2.85"/><circle cx="1216.6" cy="971.3" r="2.85"/><circle cx="1199.6" cy="980.2" r="2.85"/><circle cx="1246.6" cy="981.5" r="2.85"/><circle cx="1259.5" cy="988.6" r="2.85"/><circle cx="1172.4" cy="993.1" r="2.85"/><circle cx="1211.9" cy="999.2" r="2.85"/><circle cx="1220.7" cy="995.8" r="2.85"/><circle cx="1224.1" cy="997.9" r="2.85"/><circle cx="1231.9" cy="992.8" r="2.85"/><circle cx="1236.1" cy="995.8" r="2.85"/><circle cx="1230.0" cy="1002.7" r="2.85"/><circle cx="1214.3" cy="1010.6" r="2.85"/><circle cx="1223.5" cy="1010.6" r="2.85"/><circle cx="1186.7" cy="1014.0" r="2.85"/><circle cx="1194.2" cy="1015.3" r="2.85"/><circle cx="1202.3" cy="1015.6" r="2.85"/><circle cx="1171.0" cy="1026.5" r="2.85"/><circle cx="1167.6" cy="1032.3" r="2.85"/><circle cx="1176.9" cy="1036.3" r="2.85"/><circle cx="1137.0" cy="1050.3" r="2.85"/><circle cx="1149.6" cy="1050.1" r="2.85"/><circle cx="1160.5" cy="1055.8" r="2.85"/><circle cx="1148.5" cy="1062.6" r="2.85"/><circle cx="1140.0" cy="1065.3" r="2.85"/><circle cx="1183.7" cy="1051.3" r="2.85"/><circle cx="1193.9" cy="1066.9" r="2.85"/><circle cx="1227.1" cy="1079.6" r="2.85"/><circle cx="1223.7" cy="1092.3" r="2.85"/><circle cx="1120.2" cy="1103.2" r="2.85"/><circle cx="1208.7" cy="1110.9" r="2.85"/><circle cx="1100.2" cy="1135.5" r="2.85"/><circle cx="1232.7" cy="1133.7" r="2.85"/><circle cx="1240.5" cy="1136.8" r="2.85"/><circle cx="1251.4" cy="1135.7" r="2.85"/><circle cx="1265.0" cy="1119.8" r="2.85"/><circle cx="1266.4" cy="1054.4" r="2.85"/><circle cx="1265.0" cy="1058.5" r="2.85"/><circle cx="1237.8" cy="1152.3" r="2.85"/><circle cx="1101.1" cy="1160.5" r="2.85"/><circle cx="1152.4" cy="1162.0" r="2.85"/><circle cx="1097.7" cy="1172.7" r="2.85"/><circle cx="1102.2" cy="1174.8" r="2.85"/><circle cx="1098.8" cy="1190.4" r="2.85"/><circle cx="1106.0" cy="1188.8" r="2.85"/><circle cx="1131.2" cy="1198.3" r="2.85"/><circle cx="1098.4" cy="1201.0" r="2.85"/><circle cx="1105.4" cy="1208.8" r="2.85"/><circle cx="1215.0" cy="1198.0" r="2.85"/><circle cx="1165.3" cy="1207.6" r="2.85"/><circle cx="1152.9" cy="1215.3" r="2.85"/><circle cx="1204.4" cy="1216.0" r="2.85"/><circle cx="1102.6" cy="1223.5" r="2.85"/><circle cx="1153.6" cy="1228.6" r="2.85"/><circle cx="1112.0" cy="1234.0" r="2.85"/><circle cx="1113.5" cy="1242.2" r="2.85"/><circle cx="1144.2" cy="1238.9" r="2.85"/><circle cx="1117.2" cy="1253.5" r="2.85"/><circle cx="1137.6" cy="1267.5" r="2.85"/><circle cx="1158.1" cy="1268.5" r="2.85"/><circle cx="1155.3" cy="1274.3" r="2.85"/><circle cx="1124.7" cy="1272.3" r="2.85"/><circle cx="1169.7" cy="1274.9" r="2.85"/><circle cx="1177.4" cy="1280.0" r="2.85"/><circle cx="1131.5" cy="1282.4" r="2.85"/><circle cx="1142.4" cy="1290.0" r="2.85"/><circle cx="1165.8" cy="1293.2" r="2.85"/><circle cx="1180.8" cy="1311.4" r="2.85"/><circle cx="1172.0" cy="1336.4" r="2.85"/><circle cx="1444.4" cy="822.7" r="2.85"/><circle cx="1433.9" cy="830.1" r="2.85"/><circle cx="1439.0" cy="830.4" r="2.85"/><circle cx="1423.2" cy="834.1" r="2.85"/><circle cx="1453.4" cy="833.4" r="2.85"/><circle cx="1404.3" cy="846.1" r="2.85"/><circle cx="1433.9" cy="845.4" r="2.85"/><circle cx="1428.4" cy="851.3" r="2.85"/><circle cx="1458.8" cy="844.7" r="2.85"/><circle cx="1468.6" cy="846.4" r="2.85"/><circle cx="1476.8" cy="848.4" r="2.85"/><circle cx="1483.6" cy="848.8" r="2.85"/><circle cx="1470.2" cy="857.0" r="2.85"/><circle cx="1437.6" cy="871.3" r="2.85"/><circle cx="1469.3" cy="867.9" r="2.85"/><circle cx="1391.2" cy="876.7" r="2.85"/><circle cx="1457.7" cy="875.6" r="2.85"/><circle cx="1467.5" cy="879.7" r="2.85"/><circle cx="1347.8" cy="888.3" r="2.85"/><circle cx="1374.4" cy="892.0" r="2.85"/><circle cx="1385.8" cy="891.7" r="2.85"/><circle cx="1426.7" cy="886.9" r="2.85"/><circle cx="1453.6" cy="891.3" r="2.85"/><circle cx="1459.8" cy="890.3" r="2.85"/><circle cx="1323.1" cy="896.1" r="2.85"/><circle cx="1334.7" cy="901.2" r="2.85"/><circle cx="1331.4" cy="905.6" r="2.85"/><circle cx="1323.1" cy="909.7" r="2.85"/><circle cx="1378.0" cy="901.0" r="2.85"/><circle cx="1375.7" cy="905.3" r="2.85"/><circle cx="1385.5" cy="904.7" r="2.85"/><circle cx="1388.9" cy="906.7" r="2.85"/><circle cx="1396.4" cy="903.3" r="2.85"/><circle cx="1396.4" cy="910.4" r="2.85"/><circle cx="1409.1" cy="904.2" r="2.85"/><circle cx="1452.0" cy="901.7" r="2.85"/><circle cx="1271.4" cy="911.1" r="2.85"/><circle cx="1416.2" cy="917.6" r="2.85"/><circle cx="1302.0" cy="927.8" r="2.85"/><circle cx="1324.2" cy="928.2" r="2.85"/><circle cx="1338.1" cy="939.4" r="2.85"/><circle cx="1364.1" cy="927.4" r="2.85"/><circle cx="1365.8" cy="933.9" r="2.85"/><circle cx="1370.3" cy="933.9" r="2.85"/><circle cx="1400.2" cy="930.3" r="2.85"/><circle cx="1416.2" cy="927.8" r="2.85"/><circle cx="1415.2" cy="931.9" r="2.85"/><circle cx="1421.2" cy="937.3" r="2.85"/><circle cx="1429.1" cy="925.4" r="2.85"/><circle cx="1311.3" cy="948.2" r="2.85"/><circle cx="1278.2" cy="964.8" r="2.85"/><circle cx="1290.6" cy="969.3" r="2.85"/><circle cx="1297.4" cy="966.6" r="2.85"/><circle cx="1281.1" cy="974.3" r="2.85"/><circle cx="1290.6" cy="977.0" r="2.85"/><circle cx="1277.0" cy="981.5" r="2.85"/><circle cx="1282.3" cy="982.9" r="2.85"/><circle cx="1289.8" cy="987.0" r="2.85"/><circle cx="1308.8" cy="973.1" r="2.85"/><circle cx="1318.8" cy="961.5" r="2.85"/><circle cx="1329.7" cy="956.1" r="2.85"/><circle cx="1333.4" cy="959.1" r="2.85"/><circle cx="1329.7" cy="964.8" r="2.85"/><circle cx="1332.4" cy="967.2" r="2.85"/><circle cx="1331.4" cy="971.6" r="2.85"/><circle cx="1324.5" cy="982.6" r="2.85"/><circle cx="1347.8" cy="960.4" r="2.85"/><circle cx="1344.9" cy="965.2" r="2.85"/><circle cx="1362.8" cy="962.5" r="2.85"/><circle cx="1367.4" cy="957.7" r="2.85"/><circle cx="1374.2" cy="956.3" r="2.85"/><circle cx="1387.6" cy="959.7" r="2.85"/><circle cx="1392.3" cy="960.4" r="2.85"/><circle cx="1396.0" cy="963.2" r="2.85"/><circle cx="1382.8" cy="966.6" r="2.85"/><circle cx="1377.8" cy="970.6" r="2.85"/><circle cx="1376.7" cy="975.7" r="2.85"/><circle cx="1369.9" cy="977.5" r="2.85"/><circle cx="1368.9" cy="986.3" r="2.85"/><circle cx="1401.9" cy="954.3" r="2.85"/><circle cx="1409.6" cy="960.2" r="2.85"/><circle cx="1440.0" cy="952.9" r="2.85"/><circle cx="1447.5" cy="956.3" r="2.85"/><circle cx="1448.2" cy="960.4" r="2.85"/><circle cx="1455.3" cy="961.1" r="2.85"/><circle cx="1423.2" cy="971.1" r="2.85"/><circle cx="1428.7" cy="970.2" r="2.85"/><circle cx="1438.0" cy="973.4" r="2.85"/><circle cx="1485.6" cy="974.1" r="2.85"/><circle cx="1419.8" cy="986.7" r="2.85"/><circle cx="1483.2" cy="988.1" r="2.85"/><circle cx="1349.8" cy="999.2" r="2.85"/><circle cx="1379.0" cy="993.1" r="2.85"/><circle cx="1394.0" cy="991.5" r="2.85"/><circle cx="1413.9" cy="996.1" r="2.85"/><circle cx="1289.2" cy="997.5" r="2.85"/><circle cx="1295.9" cy="1008.4" r="2.85"/><circle cx="1290.5" cy="1015.2" r="2.85"/><circle cx="1408.3" cy="1006.1" r="2.85"/><circle cx="1417.3" cy="1007.7" r="2.85"/><circle cx="1397.4" cy="1011.1" r="2.85"/><circle cx="1404.3" cy="1014.6" r="2.85"/><circle cx="1421.2" cy="1014.2" r="2.85"/><circle cx="1415.2" cy="1018.7" r="2.85"/><circle cx="1376.0" cy="1019.3" r="2.85"/><circle cx="1439.6" cy="1021.7" r="2.85"/><circle cx="1278.3" cy="1024.4" r="2.85"/><circle cx="1354.2" cy="1033.7" r="2.85"/><circle cx="1414.8" cy="1032.2" r="2.85"/><circle cx="1452.3" cy="1038.1" r="2.85"/><circle cx="1463.8" cy="1029.9" r="2.85"/><circle cx="1470.6" cy="1027.2" r="2.85"/><circle cx="1475.4" cy="1023.1" r="2.85"/><circle cx="1485.2" cy="1026.9" r="2.85"/><circle cx="1468.6" cy="1035.3" r="2.85"/><circle cx="1476.8" cy="1034.0" r="2.85"/><circle cx="1481.1" cy="1038.1" r="2.85"/><circle cx="1289.5" cy="1038.5" r="2.85"/><circle cx="1380.3" cy="1059.2" r="2.85"/><circle cx="1336.9" cy="1067.3" r="2.85"/><circle cx="1341.5" cy="1063.9" r="2.85"/><circle cx="1352.4" cy="1065.3" r="2.85"/><circle cx="1321.5" cy="1078.5" r="2.85"/><circle cx="1355.8" cy="1089.8" r="2.85"/><circle cx="1461.1" cy="1091.9" r="2.85"/><circle cx="1462.9" cy="1102.4" r="2.85"/><circle cx="1470.6" cy="1100.3" r="2.85"/><circle cx="1434.6" cy="1108.2" r="2.85"/><circle cx="1497.9" cy="798.1" r="2.85"/><circle cx="1523.8" cy="789.6" r="2.85"/><circle cx="1535.0" cy="802.9" r="2.85"/><circle cx="1543.5" cy="816.1" r="2.85"/><circle cx="1556.2" cy="788.9" r="2.85"/><circle cx="1576.0" cy="786.2" r="2.85"/><circle cx="1588.1" cy="782.1" r="2.85"/><circle cx="1585.1" cy="790.2" r="2.85"/><circle cx="1579.4" cy="805.5" r="2.85"/><circle cx="1592.2" cy="799.1" r="2.85"/><circle cx="1599.4" cy="795.7" r="2.85"/><circle cx="1604.2" cy="792.3" r="2.85"/><circle cx="1604.2" cy="796.4" r="2.85"/><circle cx="1609.6" cy="779.6" r="2.85"/><circle cx="1622.5" cy="769.1" r="2.85"/><circle cx="1629.4" cy="772.5" r="2.85"/><circle cx="1638.5" cy="771.9" r="2.85"/><circle cx="1616.0" cy="791.9" r="2.85"/><circle cx="1623.9" cy="787.5" r="2.85"/><circle cx="1640.3" cy="782.7" r="2.85"/><circle cx="1653.2" cy="767.8" r="2.85"/><circle cx="1663.4" cy="764.4" r="2.85"/><circle cx="1670.2" cy="769.1" r="2.85"/><circle cx="1674.3" cy="769.8" r="2.85"/><circle cx="1491.8" cy="838.6" r="2.85"/><circle cx="1505.1" cy="833.6" r="2.85"/><circle cx="1503.4" cy="837.2" r="2.85"/><circle cx="1517.4" cy="834.1" r="2.85"/><circle cx="1490.7" cy="856.3" r="2.85"/><circle cx="1498.6" cy="1002.4" r="2.85"/><circle cx="1511.5" cy="1002.0" r="2.85"/><circle cx="1514.9" cy="997.9" r="2.85"/><circle cx="1517.0" cy="995.2" r="2.85"/><circle cx="1523.5" cy="1006.3" r="2.85"/><circle cx="1532.2" cy="1005.4" r="2.85"/><circle cx="1511.5" cy="1014.9" r="2.85"/><circle cx="1521.8" cy="1019.0" r="2.85"/><circle cx="1521.8" cy="1022.7" r="2.85"/><circle cx="1496.6" cy="1026.8" r="2.85"/><circle cx="1505.0" cy="1029.2" r="2.85"/><circle cx="1513.2" cy="1032.3" r="2.85"/><circle cx="1490.4" cy="1038.1" r="2.85"/><circle cx="1540.1" cy="1051.3" r="2.85"/><circle cx="1512.5" cy="1059.9" r="2.85"/><circle cx="1492.9" cy="1063.9" r="2.85"/><circle cx="1498.6" cy="1087.4" r="2.85"/><circle cx="1710.6" cy="764.7" r="2.85"/></g>
<g fill="#ff6200"><circle cx="1060.0" cy="801.8" r="2.75"/><circle cx="1058.0" cy="936.0" r="2.75"/><circle cx="1159.2" cy="928.8" r="2.75"/><circle cx="1237.8" cy="916.9" r="2.75"/><circle cx="1250.0" cy="924.4" r="2.75"/><circle cx="1244.2" cy="928.5" r="2.75"/><circle cx="1248.0" cy="933.7" r="2.75"/><circle cx="1220.3" cy="947.3" r="2.75"/><circle cx="1216.6" cy="971.3" r="2.75"/><circle cx="1199.6" cy="980.2" r="2.75"/><circle cx="1246.6" cy="981.5" r="2.75"/><circle cx="1259.5" cy="988.6" r="2.75"/><circle cx="1100.2" cy="993.1" r="2.75"/><circle cx="1127.2" cy="1003.1" r="2.75"/><circle cx="1200.6" cy="999.2" r="2.75"/><circle cx="1220.7" cy="995.8" r="2.75"/><circle cx="1224.1" cy="997.9" r="2.75"/><circle cx="1231.9" cy="992.8" r="2.75"/><circle cx="1236.1" cy="995.8" r="2.75"/><circle cx="1230.0" cy="1002.7" r="2.75"/><circle cx="1214.3" cy="1010.6" r="2.75"/><circle cx="1220.7" cy="1010.6" r="2.75"/><circle cx="1186.7" cy="1014.0" r="2.75"/><circle cx="1194.2" cy="1015.3" r="2.75"/><circle cx="1202.3" cy="1015.6" r="2.75"/><circle cx="1171.0" cy="1026.5" r="2.75"/><circle cx="1167.6" cy="1032.3" r="2.75"/><circle cx="1176.9" cy="1036.3" r="2.75"/><circle cx="1137.0" cy="1050.3" r="2.75"/><circle cx="1149.6" cy="1050.1" r="2.75"/><circle cx="1160.5" cy="1055.8" r="2.75"/><circle cx="1148.5" cy="1062.6" r="2.75"/><circle cx="1111.5" cy="1065.3" r="2.75"/><circle cx="1183.7" cy="1051.3" r="2.75"/><circle cx="1193.9" cy="1066.9" r="2.75"/><circle cx="1227.1" cy="1079.6" r="2.75"/><circle cx="1223.7" cy="1092.3" r="2.75"/><circle cx="1120.2" cy="1103.2" r="2.75"/><circle cx="1208.7" cy="1110.9" r="2.75"/><circle cx="1100.2" cy="1135.5" r="2.75"/><circle cx="1232.7" cy="1133.7" r="2.75"/><circle cx="1240.5" cy="1136.8" r="2.75"/><circle cx="1251.4" cy="1135.7" r="2.75"/><circle cx="1265.0" cy="1119.8" r="2.75"/><circle cx="1266.4" cy="1054.4" r="2.75"/><circle cx="1265.0" cy="1058.5" r="2.75"/><circle cx="1237.8" cy="1152.3" r="2.75"/><circle cx="1101.1" cy="1160.5" r="2.75"/><circle cx="1152.4" cy="1162.0" r="2.75"/><circle cx="1097.7" cy="1172.7" r="2.75"/><circle cx="1102.2" cy="1174.8" r="2.75"/><circle cx="1098.8" cy="1190.4" r="2.75"/><circle cx="1106.0" cy="1188.8" r="2.75"/><circle cx="1131.2" cy="1198.3" r="2.75"/><circle cx="1098.4" cy="1201.0" r="2.75"/><circle cx="1105.4" cy="1208.8" r="2.75"/><circle cx="1165.3" cy="1207.6" r="2.75"/><circle cx="1152.9" cy="1215.3" r="2.75"/><circle cx="1204.4" cy="1216.0" r="2.75"/><circle cx="1096.8" cy="1223.5" r="2.75"/><circle cx="1153.6" cy="1228.6" r="2.75"/><circle cx="1112.0" cy="1234.0" r="2.75"/><circle cx="1113.5" cy="1242.2" r="2.75"/><circle cx="1144.2" cy="1238.9" r="2.75"/><circle cx="1117.2" cy="1253.5" r="2.75"/><circle cx="1137.6" cy="1267.5" r="2.75"/><circle cx="1158.1" cy="1268.5" r="2.75"/><circle cx="1155.3" cy="1274.3" r="2.75"/><circle cx="1124.7" cy="1272.3" r="2.75"/><circle cx="1169.7" cy="1274.9" r="2.75"/><circle cx="1162.6" cy="1280.0" r="2.75"/><circle cx="1131.5" cy="1282.4" r="2.75"/><circle cx="1142.4" cy="1290.0" r="2.75"/><circle cx="1165.8" cy="1293.2" r="2.75"/><circle cx="1180.8" cy="1311.4" r="2.75"/><circle cx="1136.3" cy="1336.4" r="2.75"/><circle cx="1444.4" cy="822.7" r="2.75"/><circle cx="1433.9" cy="830.1" r="2.75"/><circle cx="1439.0" cy="830.4" r="2.75"/><circle cx="1423.2" cy="834.1" r="2.75"/><circle cx="1453.4" cy="833.4" r="2.75"/><circle cx="1404.3" cy="846.1" r="2.75"/><circle cx="1433.9" cy="845.4" r="2.75"/><circle cx="1428.4" cy="851.3" r="2.75"/><circle cx="1458.8" cy="844.7" r="2.75"/><circle cx="1468.6" cy="846.4" r="2.75"/><circle cx="1476.8" cy="848.4" r="2.75"/><circle cx="1483.6" cy="848.8" r="2.75"/><circle cx="1470.2" cy="857.0" r="2.75"/><circle cx="1399.6" cy="856.3" r="2.75"/><circle cx="1434.1" cy="871.3" r="2.75"/><circle cx="1469.3" cy="867.9" r="2.75"/><circle cx="1391.2" cy="876.7" r="2.75"/><circle cx="1457.7" cy="875.6" r="2.75"/><circle cx="1467.5" cy="879.7" r="2.75"/><circle cx="1347.8" cy="888.3" r="2.75"/><circle cx="1374.4" cy="892.0" r="2.75"/><circle cx="1385.8" cy="891.7" r="2.75"/><circle cx="1426.7" cy="886.9" r="2.75"/><circle cx="1453.6" cy="891.3" r="2.75"/><circle cx="1459.8" cy="890.3" r="2.75"/><circle cx="1323.1" cy="896.1" r="2.75"/><circle cx="1334.7" cy="901.2" r="2.75"/><circle cx="1331.4" cy="905.6" r="2.75"/><circle cx="1323.1" cy="909.7" r="2.75"/><circle cx="1378.0" cy="901.0" r="2.75"/><circle cx="1375.7" cy="905.3" r="2.75"/><circle cx="1385.5" cy="904.7" r="2.75"/><circle cx="1388.9" cy="906.7" r="2.75"/><circle cx="1396.4" cy="903.3" r="2.75"/><circle cx="1396.4" cy="910.4" r="2.75"/><circle cx="1409.1" cy="904.2" r="2.75"/><circle cx="1452.0" cy="901.7" r="2.75"/><circle cx="1271.4" cy="911.1" r="2.75"/><circle cx="1324.2" cy="928.2" r="2.75"/><circle cx="1364.1" cy="927.4" r="2.75"/><circle cx="1365.8" cy="933.9" r="2.75"/><circle cx="1370.3" cy="933.9" r="2.75"/><circle cx="1400.2" cy="930.3" r="2.75"/><circle cx="1416.2" cy="927.8" r="2.75"/><circle cx="1415.2" cy="931.9" r="2.75"/><circle cx="1421.2" cy="937.3" r="2.75"/><circle cx="1429.1" cy="925.4" r="2.75"/><circle cx="1311.3" cy="948.2" r="2.75"/><circle cx="1278.2" cy="964.8" r="2.75"/><circle cx="1290.6" cy="969.3" r="2.75"/><circle cx="1297.4" cy="966.6" r="2.75"/><circle cx="1281.1" cy="974.3" r="2.75"/><circle cx="1290.6" cy="977.0" r="2.75"/><circle cx="1277.0" cy="981.5" r="2.75"/><circle cx="1282.3" cy="982.9" r="2.75"/><circle cx="1289.8" cy="987.0" r="2.75"/><circle cx="1303.5" cy="973.1" r="2.75"/><circle cx="1318.8" cy="961.5" r="2.75"/><circle cx="1329.7" cy="956.1" r="2.75"/><circle cx="1333.4" cy="959.1" r="2.75"/><circle cx="1329.7" cy="964.8" r="2.75"/><circle cx="1332.4" cy="967.2" r="2.75"/><circle cx="1331.4" cy="971.6" r="2.75"/><circle cx="1324.5" cy="982.6" r="2.75"/><circle cx="1347.8" cy="960.4" r="2.75"/><circle cx="1344.9" cy="965.2" r="2.75"/><circle cx="1362.8" cy="962.5" r="2.75"/><circle cx="1367.4" cy="957.7" r="2.75"/><circle cx="1374.2" cy="956.3" r="2.75"/><circle cx="1387.6" cy="959.7" r="2.75"/><circle cx="1392.3" cy="960.4" r="2.75"/><circle cx="1396.0" cy="963.2" r="2.75"/><circle cx="1382.8" cy="966.6" r="2.75"/><circle cx="1377.8" cy="970.6" r="2.75"/><circle cx="1376.7" cy="975.7" r="2.75"/><circle cx="1369.9" cy="977.5" r="2.75"/><circle cx="1368.9" cy="986.3" r="2.75"/><circle cx="1401.9" cy="954.3" r="2.75"/><circle cx="1409.6" cy="960.2" r="2.75"/><circle cx="1440.0" cy="952.9" r="2.75"/><circle cx="1447.5" cy="956.3" r="2.75"/><circle cx="1448.2" cy="960.4" r="2.75"/><circle cx="1455.3" cy="961.1" r="2.75"/><circle cx="1423.2" cy="971.1" r="2.75"/><circle cx="1428.7" cy="970.2" r="2.75"/><circle cx="1438.0" cy="973.4" r="2.75"/><circle cx="1485.6" cy="974.1" r="2.75"/><circle cx="1419.8" cy="986.7" r="2.75"/><circle cx="1483.2" cy="988.1" r="2.75"/><circle cx="1379.0" cy="993.1" r="2.75"/><circle cx="1389.6" cy="991.5" r="2.75"/><circle cx="1413.9" cy="996.1" r="2.75"/><circle cx="1289.2" cy="997.5" r="2.75"/><circle cx="1295.9" cy="1008.4" r="2.75"/><circle cx="1290.5" cy="1015.2" r="2.75"/><circle cx="1408.3" cy="1006.1" r="2.75"/><circle cx="1417.3" cy="1007.7" r="2.75"/><circle cx="1397.4" cy="1011.1" r="2.75"/><circle cx="1404.3" cy="1014.6" r="2.75"/><circle cx="1421.2" cy="1014.2" r="2.75"/><circle cx="1415.2" cy="1018.7" r="2.75"/><circle cx="1376.0" cy="1019.3" r="2.75"/><circle cx="1439.6" cy="1021.7" r="2.75"/><circle cx="1278.3" cy="1024.4" r="2.75"/><circle cx="1354.2" cy="1033.7" r="2.75"/><circle cx="1414.8" cy="1032.2" r="2.75"/><circle cx="1452.3" cy="1038.1" r="2.75"/><circle cx="1463.8" cy="1029.9" r="2.75"/><circle cx="1470.6" cy="1027.2" r="2.75"/><circle cx="1475.4" cy="1023.1" r="2.75"/><circle cx="1485.2" cy="1026.9" r="2.75"/><circle cx="1468.6" cy="1035.3" r="2.75"/><circle cx="1476.8" cy="1034.0" r="2.75"/><circle cx="1481.1" cy="1038.1" r="2.75"/><circle cx="1482.5" cy="1051.4" r="2.75"/><circle cx="1289.5" cy="1038.5" r="2.75"/><circle cx="1264.7" cy="1059.2" r="2.75"/><circle cx="1336.9" cy="1067.3" r="2.75"/><circle cx="1341.5" cy="1063.9" r="2.75"/><circle cx="1352.4" cy="1065.3" r="2.75"/><circle cx="1321.5" cy="1078.5" r="2.75"/><circle cx="1355.8" cy="1089.8" r="2.75"/><circle cx="1461.1" cy="1091.9" r="2.75"/><circle cx="1462.9" cy="1102.4" r="2.75"/><circle cx="1470.6" cy="1100.3" r="2.75"/><circle cx="1434.6" cy="1108.2" r="2.75"/><circle cx="1523.8" cy="789.6" r="2.75"/><circle cx="1535.0" cy="802.9" r="2.75"/><circle cx="1543.5" cy="816.1" r="2.75"/><circle cx="1556.2" cy="788.9" r="2.75"/><circle cx="1576.0" cy="786.2" r="2.75"/><circle cx="1588.1" cy="782.1" r="2.75"/><circle cx="1585.1" cy="790.2" r="2.75"/><circle cx="1579.4" cy="805.5" r="2.75"/><circle cx="1592.2" cy="799.1" r="2.75"/><circle cx="1599.4" cy="795.7" r="2.75"/><circle cx="1604.2" cy="792.3" r="2.75"/><circle cx="1604.2" cy="796.4" r="2.75"/><circle cx="1609.6" cy="779.6" r="2.75"/><circle cx="1604.6" cy="769.1" r="2.75"/><circle cx="1622.5" cy="769.1" r="2.75"/><circle cx="1629.4" cy="772.5" r="2.75"/><circle cx="1638.5" cy="771.9" r="2.75"/><circle cx="1616.0" cy="791.9" r="2.75"/><circle cx="1623.9" cy="787.5" r="2.75"/><circle cx="1632.8" cy="784.8" r="2.75"/><circle cx="1640.3" cy="782.7" r="2.75"/><circle cx="1653.2" cy="767.8" r="2.75"/><circle cx="1663.4" cy="764.4" r="2.75"/><circle cx="1670.2" cy="769.1" r="2.75"/><circle cx="1674.3" cy="769.8" r="2.75"/><circle cx="1491.8" cy="838.6" r="2.75"/><circle cx="1505.1" cy="833.6" r="2.75"/><circle cx="1503.4" cy="837.2" r="2.75"/><circle cx="1517.4" cy="834.1" r="2.75"/><circle cx="1498.6" cy="1002.4" r="2.75"/><circle cx="1493.8" cy="995.6" r="2.75"/><circle cx="1511.5" cy="1002.0" r="2.75"/><circle cx="1514.9" cy="997.9" r="2.75"/><circle cx="1523.5" cy="1006.3" r="2.75"/><circle cx="1532.2" cy="1005.4" r="2.75"/><circle cx="1511.5" cy="1014.9" r="2.75"/><circle cx="1521.8" cy="1019.0" r="2.75"/><circle cx="1521.8" cy="1022.7" r="2.75"/><circle cx="1496.6" cy="1026.8" r="2.75"/><circle cx="1505.0" cy="1029.2" r="2.75"/><circle cx="1513.2" cy="1032.3" r="2.75"/><circle cx="1512.5" cy="1059.9" r="2.75"/><circle cx="1492.9" cy="1063.9" r="2.75"/><circle cx="1498.6" cy="1087.4" r="2.75"/></g></g>
<path d="M1028.2,763.4H1758.5V1336.1H1028.2ZM1084.30,1336.1v-7.7M1084.30,763.4v7.7M1365.10,1336.1v-7.7M1365.10,763.4v7.7M1645.90,1336.1v-7.7M1645.90,763.4v7.7M1028.2,836.80h7.7M1758.5,836.80h-7.7M1028.2,1014.00h7.7M1758.5,1014.00h-7.7M1028.2,1191.20h7.7M1758.5,1191.20h-7.7" fill="none" stroke="#262626" stroke-width="1.6"/>
<text x="1069.80" y="1402.10" font-size="58" fill="#262626">0</text>
<text x="1328.85" y="1402.10" font-size="58" fill="#262626">0.5</text>
<text x="1630.53" y="1402.10" font-size="58" fill="#262626">1</text>
<text x="941.72" y="857.10" font-size="58" fill="#262626">0.5</text>
<text x="985.22" y="1034.30" font-size="58" fill="#262626">0</text>
<text x="922.58" y="1211.50" font-size="58" fill="#262626">-0.5</text>
<text x="1404.56" y="1423.60" font-size="64" fill="#262626">x(n)</text>
<text x="953.40" y="1072.14" font-size="64" fill="#262626" transform="rotate(-90 953.40 1072.14)">y(n)</text>
<text x="1316.43" y="1475.40" font-size="29" fill="#262626">(d)</text>
<rect x="1642.3" y="771.2" width="112.80" height="78.90" fill="#fff" stroke="#262626" stroke-width="1.4"/>
<circle cx="1659.6" cy="791.7" r="2.85" fill="none" stroke="#0000ff" stroke-width="3.7"/>
<circle cx="1659.6" cy="830.1" r="3.1" fill="#ff6200"/>
<text x="1675.63" y="804.50" font-size="34.3" fill="#000">Ikeda</text>
<text x="1675.97" y="842.50" font-size="34.3" fill="#000">RC</text>
</svg></body></html>
